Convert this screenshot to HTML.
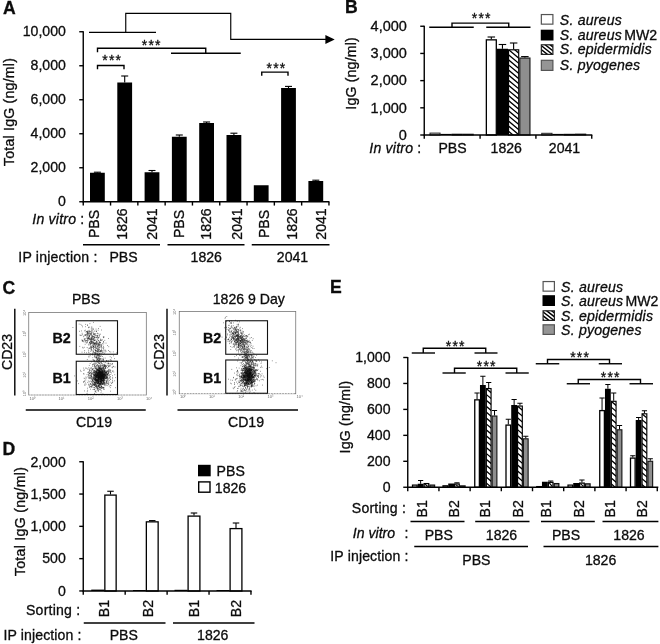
<!DOCTYPE html>
<html lang="en"><head><meta charset="utf-8"><title>Figure</title>
<style>html,body{margin:0;padding:0;background:#fff}svg{display:block}text{font-family:"Liberation Sans",Arial,Helvetica,sans-serif;fill:#0c0c0c;stroke:#0c0c0c;stroke-width:.3px}</style></head><body>
<svg width="660" height="644" viewBox="0 0 660 644" font-size="14.1">
<rect width="660" height="644" fill="#fff"/>
<g id="panelA">
<text x="2.9" y="13.6" font-size="17.6" font-weight="bold">A</text>
<rect x="90" y="172.75" width="14.8" height="29" fill="#000"/>
<line x1="97.4" y1="172.2" x2="97.4" y2="172.75" stroke="#000" stroke-width="1.1"/>
<line x1="93.9" y1="172.2" x2="100.9" y2="172.2" stroke="#000" stroke-width="1.1"/>
<rect x="117.3" y="82.5" width="14.8" height="119.25" fill="#000"/>
<line x1="124.7" y1="76" x2="124.7" y2="82.5" stroke="#000" stroke-width="1.1"/>
<line x1="121.2" y1="76" x2="128.2" y2="76" stroke="#000" stroke-width="1.1"/>
<rect x="144.6" y="172.25" width="14.8" height="29.5" fill="#000"/>
<line x1="152" y1="170.5" x2="152" y2="172.25" stroke="#000" stroke-width="1.1"/>
<line x1="148.5" y1="170.5" x2="155.5" y2="170.5" stroke="#000" stroke-width="1.1"/>
<rect x="171.9" y="136.75" width="14.8" height="65" fill="#000"/>
<line x1="179.3" y1="135" x2="179.3" y2="136.75" stroke="#000" stroke-width="1.1"/>
<line x1="175.8" y1="135" x2="182.8" y2="135" stroke="#000" stroke-width="1.1"/>
<rect x="199.2" y="123" width="14.8" height="78.75" fill="#000"/>
<line x1="206.6" y1="122" x2="206.6" y2="123" stroke="#000" stroke-width="1.1"/>
<line x1="203.1" y1="122" x2="210.1" y2="122" stroke="#000" stroke-width="1.1"/>
<rect x="226.5" y="135" width="14.8" height="66.75" fill="#000"/>
<line x1="233.9" y1="133.2" x2="233.9" y2="135" stroke="#000" stroke-width="1.1"/>
<line x1="230.4" y1="133.2" x2="237.4" y2="133.2" stroke="#000" stroke-width="1.1"/>
<rect x="253.8" y="185.25" width="14.8" height="16.5" fill="#000"/>
<rect x="281.1" y="88" width="14.8" height="113.75" fill="#000"/>
<line x1="288.5" y1="86.4" x2="288.5" y2="88" stroke="#000" stroke-width="1.1"/>
<line x1="285" y1="86.4" x2="292" y2="86.4" stroke="#000" stroke-width="1.1"/>
<rect x="308.4" y="181" width="14.8" height="20.75" fill="#000"/>
<line x1="315.8" y1="180.2" x2="315.8" y2="181" stroke="#000" stroke-width="1.1"/>
<line x1="312.3" y1="180.2" x2="319.3" y2="180.2" stroke="#000" stroke-width="1.1"/>
<line x1="83.25" y1="31.15" x2="83.25" y2="202.35" stroke="#000" stroke-width="1.4"/>
<line x1="82.65" y1="201.75" x2="329.4" y2="201.75" stroke="#000" stroke-width="1.4"/>
<line x1="79.25" y1="31.75" x2="83.25" y2="31.75" stroke="#000" stroke-width="1.4"/>
<text x="65.9" y="35.55" text-anchor="end">10,000</text>
<line x1="79.25" y1="65.75" x2="83.25" y2="65.75" stroke="#000" stroke-width="1.4"/>
<text x="65.9" y="69.55" text-anchor="end">8,000</text>
<line x1="79.25" y1="99.75" x2="83.25" y2="99.75" stroke="#000" stroke-width="1.4"/>
<text x="65.9" y="103.55" text-anchor="end">6,000</text>
<line x1="79.25" y1="133.75" x2="83.25" y2="133.75" stroke="#000" stroke-width="1.4"/>
<text x="65.9" y="137.55" text-anchor="end">4,000</text>
<line x1="79.25" y1="167.75" x2="83.25" y2="167.75" stroke="#000" stroke-width="1.4"/>
<text x="65.9" y="171.55" text-anchor="end">2,000</text>
<line x1="79.25" y1="201.75" x2="83.25" y2="201.75" stroke="#000" stroke-width="1.4"/>
<text x="65.9" y="205.55" text-anchor="end">0</text>
<line x1="83.25" y1="201.75" x2="83.25" y2="205.55" stroke="#000" stroke-width="1.4"/>
<line x1="110.55" y1="201.75" x2="110.55" y2="205.55" stroke="#000" stroke-width="1.4"/>
<line x1="137.85" y1="201.75" x2="137.85" y2="205.55" stroke="#000" stroke-width="1.4"/>
<line x1="165.15" y1="201.75" x2="165.15" y2="205.55" stroke="#000" stroke-width="1.4"/>
<line x1="192.45" y1="201.75" x2="192.45" y2="205.55" stroke="#000" stroke-width="1.4"/>
<line x1="219.75" y1="201.75" x2="219.75" y2="205.55" stroke="#000" stroke-width="1.4"/>
<line x1="247.05" y1="201.75" x2="247.05" y2="205.55" stroke="#000" stroke-width="1.4"/>
<line x1="274.35" y1="201.75" x2="274.35" y2="205.55" stroke="#000" stroke-width="1.4"/>
<line x1="301.65" y1="201.75" x2="301.65" y2="205.55" stroke="#000" stroke-width="1.4"/>
<line x1="328.95" y1="201.75" x2="328.95" y2="205.55" stroke="#000" stroke-width="1.4"/>
<text x="0" y="0" letter-spacing="0.24" text-anchor="middle" transform="translate(13.6 112) rotate(-90)">Total IgG (ng/ml)</text>
<polyline points="125.75,32.3 125.75,13.4 230.75,13.4 230.75,39.4 327,39.4" fill="none" stroke="#000" stroke-width="1.15" stroke-linejoin="miter"/>
<polygon points="325.4,34.9 334.7,39.4 325.4,43.9" fill="#000"/>
<line x1="89" y1="32.3" x2="156" y2="32.3" stroke="#000" stroke-width="1.15"/>
<polyline points="97.5,52.2 97.5,48.3 205.75,48.3 205.75,53.25" fill="none" stroke="#000" stroke-width="1.4" stroke-linejoin="miter"/>
<line x1="171" y1="53.25" x2="240.75" y2="53.25" stroke="#000" stroke-width="1.4"/>
<text x="151.7" y="50.3" letter-spacing="1.15" text-anchor="middle" font-size="14">***</text>
<polyline points="97.5,69.2 97.5,65.5 124,65.5 124,69.2" fill="none" stroke="#000" stroke-width="1.4" stroke-linejoin="miter"/>
<text x="112.2" y="65.3" letter-spacing="1.15" text-anchor="middle" font-size="14">***</text>
<polyline points="261.75,75.7 261.75,72.1 288,72.1 288,75.7" fill="none" stroke="#000" stroke-width="1.4" stroke-linejoin="miter"/>
<text x="276.45" y="72.8" letter-spacing="1.15" text-anchor="middle" font-size="14">***</text>
<text x="32.3" y="223.7" letter-spacing="0.2"><tspan font-style="italic">In vitro</tspan> :</text>
<text x="0" y="0" text-anchor="middle" transform="translate(99.4 224) rotate(-90)">PBS</text>
<text x="0" y="0" text-anchor="middle" transform="translate(127 224) rotate(-90)">1826</text>
<text x="0" y="0" text-anchor="middle" transform="translate(157.4 224) rotate(-90)">2041</text>
<text x="0" y="0" text-anchor="middle" transform="translate(183.9 224) rotate(-90)">PBS</text>
<text x="0" y="0" text-anchor="middle" transform="translate(210.6 224) rotate(-90)">1826</text>
<text x="0" y="0" text-anchor="middle" transform="translate(242.2 224) rotate(-90)">2041</text>
<text x="0" y="0" text-anchor="middle" transform="translate(268.6 224) rotate(-90)">PBS</text>
<text x="0" y="0" text-anchor="middle" transform="translate(297 224) rotate(-90)">1826</text>
<text x="0" y="0" text-anchor="middle" transform="translate(326.2 224) rotate(-90)">2041</text>
<line x1="83" y1="244.75" x2="160" y2="244.75" stroke="#000" stroke-width="1.4"/>
<line x1="167.5" y1="244.75" x2="244.5" y2="244.75" stroke="#000" stroke-width="1.4"/>
<line x1="251.75" y1="244.75" x2="329.5" y2="244.75" stroke="#000" stroke-width="1.4"/>
<text x="18.3" y="261.7" letter-spacing="0.2">IP injection :</text>
<text x="123.5" y="261.6" text-anchor="middle">PBS</text>
<text x="206.25" y="261.6" text-anchor="middle">1826</text>
<text x="292.5" y="261.6" text-anchor="middle">2041</text>
</g>
<g id="panelB">
<text x="344.9" y="13" font-size="17.6" font-weight="bold">B</text>
<rect x="486.35" y="39.85" width="9.95" height="95.15" fill="#fff" stroke="#000" stroke-width="1.3"/>
<line x1="491.32" y1="37" x2="491.32" y2="39.25" stroke="#000" stroke-width="1.1"/>
<line x1="487.57" y1="37" x2="495.07" y2="37" stroke="#000" stroke-width="1.1"/>
<rect x="496.9" y="48.75" width="11.1" height="86.25" fill="#000"/>
<line x1="502.45" y1="44.5" x2="502.45" y2="48.75" stroke="#000" stroke-width="1.1"/>
<line x1="498.7" y1="44.5" x2="506.2" y2="44.5" stroke="#000" stroke-width="1.1"/>
<clipPath id="hc1"><rect x="508.55" y="49.8" width="10.15" height="85.2"/></clipPath>
<rect x="508.55" y="49.8" width="10.15" height="85.2" fill="#fff"/>
<path d="M507.55 38.6L519.7 48.8M507.55 43.7L519.7 53.9M507.55 48.8L519.7 59M507.55 53.9L519.7 64.1M507.55 59L519.7 69.2M507.55 64.1L519.7 74.3M507.55 69.2L519.7 79.4M507.55 74.3L519.7 84.5M507.55 79.4L519.7 89.6M507.55 84.5L519.7 94.7M507.55 89.6L519.7 99.8M507.55 94.7L519.7 104.9M507.55 99.8L519.7 110M507.55 104.9L519.7 115.1M507.55 110L519.7 120.2M507.55 115.1L519.7 125.3M507.55 120.2L519.7 130.4M507.55 125.3L519.7 135.5M507.55 130.4L519.7 140.6M507.55 135.5L519.7 145.7" stroke="#000" stroke-width="1.3" fill="none" clip-path="url(#hc1)"/>
<rect x="508.55" y="49.8" width="10.15" height="85.2" fill="none" stroke="#000" stroke-width="1.15"/>
<line x1="513.62" y1="43" x2="513.62" y2="49.25" stroke="#000" stroke-width="1.1"/>
<line x1="509.88" y1="43" x2="517.38" y2="43" stroke="#000" stroke-width="1.1"/>
<rect x="519.8" y="58.05" width="10.15" height="76.95" fill="#8e8e8e" stroke="#181818" stroke-width="1.15"/>
<line x1="524.88" y1="56.6" x2="524.88" y2="57.5" stroke="#000" stroke-width="1.1"/>
<line x1="521.12" y1="56.6" x2="528.62" y2="56.6" stroke="#000" stroke-width="1.1"/>
<rect x="430" y="133.1" width="10.06" height="1.9" fill="#ddd" stroke="#222" stroke-width="1"/>
<rect x="440.56" y="133.9" width="11.06" height="1.1" fill="#000"/>
<rect x="452.12" y="134.2" width="10.06" height="0.8" fill="#777" stroke="#111" stroke-width="1"/>
<rect x="463.18" y="134.2" width="10.06" height="0.8" fill="#777" stroke="#222" stroke-width="1"/>
<rect x="541.75" y="133.3" width="10.25" height="1.7" fill="#ddd" stroke="#222" stroke-width="1"/>
<rect x="552.5" y="133.9" width="11.25" height="1.1" fill="#000"/>
<rect x="564.25" y="134.3" width="10.25" height="0.7" fill="#777" stroke="#111" stroke-width="1"/>
<rect x="575.5" y="134.1" width="10.25" height="0.9" fill="#777" stroke="#222" stroke-width="1"/>
<line x1="424.25" y1="25.65" x2="424.25" y2="135.6" stroke="#000" stroke-width="1.4"/>
<line x1="423.65" y1="135" x2="592.3" y2="135" stroke="#000" stroke-width="1.4"/>
<line x1="420.25" y1="26.25" x2="424.25" y2="26.25" stroke="#000" stroke-width="1.4"/>
<text x="406.9" y="30.95" text-anchor="end" font-size="14.5">4,000</text>
<line x1="420.25" y1="53.44" x2="424.25" y2="53.44" stroke="#000" stroke-width="1.4"/>
<text x="406.9" y="58.14" text-anchor="end" font-size="14.5">3,000</text>
<line x1="420.25" y1="80.63" x2="424.25" y2="80.63" stroke="#000" stroke-width="1.4"/>
<text x="406.9" y="85.33" text-anchor="end" font-size="14.5">2,000</text>
<line x1="420.25" y1="107.82" x2="424.25" y2="107.82" stroke="#000" stroke-width="1.4"/>
<text x="406.9" y="112.52" text-anchor="end" font-size="14.5">1,000</text>
<line x1="420.25" y1="135.01" x2="424.25" y2="135.01" stroke="#000" stroke-width="1.4"/>
<text x="406.9" y="139.71" text-anchor="end" font-size="14.5">0</text>
<line x1="424.25" y1="135" x2="424.25" y2="138.8" stroke="#000" stroke-width="1.4"/>
<line x1="480.08" y1="135" x2="480.08" y2="138.8" stroke="#000" stroke-width="1.4"/>
<line x1="535.91" y1="135" x2="535.91" y2="138.8" stroke="#000" stroke-width="1.4"/>
<line x1="591.74" y1="135" x2="591.74" y2="138.8" stroke="#000" stroke-width="1.4"/>
<text x="0" y="0" letter-spacing="0.18" text-anchor="middle" transform="translate(356 73.4) rotate(-90)">IgG (ng/ml)</text>
<line x1="429.25" y1="27.3" x2="473.75" y2="27.3" stroke="#000" stroke-width="1.4"/>
<line x1="486.25" y1="27.3" x2="530.5" y2="27.3" stroke="#000" stroke-width="1.4"/>
<polyline points="452,27.3 452,23.1 508.75,23.1 508.75,27.3" fill="none" stroke="#000" stroke-width="1.4" stroke-linejoin="miter"/>
<text x="481.7" y="22.8" letter-spacing="1.15" text-anchor="middle" font-size="14">***</text>
<text x="369.3" y="153.1" letter-spacing="0.2"><tspan font-style="italic">In vitro</tspan> :</text>
<text x="452.5" y="153.1" text-anchor="middle">PBS</text>
<text x="506.25" y="153.1" text-anchor="middle">1826</text>
<text x="564.5" y="153.1" text-anchor="middle">2041</text>
<rect x="541.35" y="14.55" width="11.55" height="9.6" fill="#fff" stroke="#555" stroke-width="1.2"/>
<rect x="540.75" y="29.7" width="12.75" height="10.8" fill="#000"/>
<clipPath id="hc2"><rect x="541.35" y="44.8" width="11.55" height="9.6"/></clipPath>
<rect x="541.35" y="44.8" width="11.55" height="9.6" fill="#fff"/>
<path d="M540.35 33.21L553.9 43.8M540.35 37.11L553.9 47.7M540.35 41.01L553.9 51.6M540.35 44.91L553.9 55.5M540.35 48.81L553.9 59.4M540.35 52.71L553.9 63.3" stroke="#000" stroke-width="1.45" fill="none" clip-path="url(#hc2)"/>
<rect x="541.35" y="44.8" width="11.55" height="9.6" fill="none" stroke="#222" stroke-width="1.2"/>
<rect x="541.35" y="60.3" width="11.55" height="10.1" fill="#959595" stroke="#555" stroke-width="1.2"/>
<text x="559.8" y="24.7" letter-spacing="0.2" font-style="italic">S. aureus</text>
<text x="559.8" y="40.3" letter-spacing="0.2"><tspan font-style="italic">S. aureus</tspan><tspan dx="-1.6" letter-spacing="0"> MW2</tspan></text>
<text x="559.8" y="54.2" letter-spacing="0.2" font-style="italic">S. epidermidis</text>
<text x="559.8" y="69.7" letter-spacing="0.2" font-style="italic">S. pyogenes</text>
</g>
<g id="panelC">
<text x="2.6" y="293.5" font-size="17.6" font-weight="bold">C</text>
<rect x="28.75" y="312.4" width="117.55" height="82.6" fill="none" stroke="#6e6e6e" stroke-width="0.75"/>
<line x1="29.75" y1="395" x2="145.3" y2="395" stroke="#fff" stroke-width="1.2" stroke-dasharray="1.2 1.6"/>
<text x="0" y="0" text-anchor="middle" font-size="4" style="fill:#686868;stroke:none" transform="translate(25.75 312.9) rotate(-90)">10⁴</text>
<text x="0" y="0" text-anchor="middle" font-size="4" style="fill:#686868;stroke:none" transform="translate(25.75 333.7) rotate(-90)">10³</text>
<text x="0" y="0" text-anchor="middle" font-size="4" style="fill:#686868;stroke:none" transform="translate(25.75 354.4) rotate(-90)">10²</text>
<text x="0" y="0" text-anchor="middle" font-size="4" style="fill:#686868;stroke:none" transform="translate(25.75 374.9) rotate(-90)">10¹</text>
<text x="0" y="0" text-anchor="middle" font-size="4" style="fill:#686868;stroke:none" transform="translate(25.75 393.5) rotate(-90)">10⁰</text>
<text x="32.25" y="399.6" text-anchor="middle" font-size="4" style="fill:#686868;stroke:none">10⁰</text>
<text x="61.45" y="399.6" text-anchor="middle" font-size="4" style="fill:#686868;stroke:none">10¹</text>
<text x="90.65" y="399.6" text-anchor="middle" font-size="4" style="fill:#686868;stroke:none">10²</text>
<text x="119.85" y="399.6" text-anchor="middle" font-size="4" style="fill:#686868;stroke:none">10³</text>
<text x="149.05" y="399.6" text-anchor="middle" font-size="4" style="fill:#686868;stroke:none">10⁴</text>
<path d="M96.6 377.7h.65M102.6 373.9h.65M96.3 376.2h.65M101.2 379.6h.65M96.6 372.0h.65M101.8 377.4h.65M104.0 378.8h.65M99.6 375.1h.65M106.8 374.1h.65M97.8 372.4h.65M100.2 376.5h.65M99.0 375.9h.65M100.6 378.2h.65M102.9 376.3h.65M95.1 379.0h.65M96.1 375.9h.65M95.9 376.5h.65M97.8 377.0h.65M108.8 374.7h.65M102.2 371.2h.65M99.1 378.3h.65M99.6 377.3h.65M100.2 372.6h.65M101.4 373.1h.65M105.0 373.7h.65M101.8 375.8h.65M102.5 373.6h.65M102.6 375.2h.65M103.3 377.7h.65M100.3 373.3h.65M102.0 377.3h.65M104.3 374.2h.65M101.4 377.5h.65M100.7 376.6h.65M100.4 373.9h.65M97.2 375.0h.65M101.5 380.9h.65M102.5 379.2h.65M102.0 378.1h.65M100.4 378.5h.65M104.7 374.3h.65M98.0 382.9h.65M100.6 379.2h.65M102.3 371.9h.65M106.5 381.2h.65M100.4 378.5h.65M100.2 373.0h.65M99.6 377.3h.65M102.9 378.0h.65M100.1 380.6h.65M97.8 378.9h.65M102.9 374.6h.65M95.1 373.5h.65M100.5 377.7h.65M104.1 372.1h.65M99.9 378.2h.65M99.5 368.0h.65M102.1 383.5h.65M102.6 372.6h.65M98.8 376.9h.65M106.6 377.2h.65M100.2 381.2h.65M99.7 382.3h.65M98.1 374.6h.65M101.8 380.6h.65M101.7 376.8h.65M95.0 374.2h.65M98.3 374.4h.65M101.5 374.7h.65M102.0 376.0h.65M99.0 376.5h.65M101.1 378.8h.65M98.6 375.4h.65M96.2 381.9h.65M103.8 374.9h.65M98.6 372.0h.65M100.4 376.6h.65M105.8 376.1h.65M97.8 368.0h.65M103.7 376.2h.65M95.6 377.2h.65M95.6 388.3h.65M102.9 377.6h.65M99.4 368.8h.65M99.6 370.8h.65M101.5 368.6h.65M97.4 380.4h.65M104.3 371.4h.65M95.8 379.5h.65M102.2 372.4h.65M98.0 373.9h.65M96.7 374.1h.65M103.3 377.9h.65M105.5 375.0h.65M99.5 372.7h.65M99.6 371.6h.65M95.1 379.0h.65M103.8 378.3h.65M103.5 376.4h.65M98.0 376.5h.65M98.9 372.4h.65M95.3 371.6h.65M99.9 376.5h.65M98.6 381.0h.65M100.4 377.9h.65M103.2 372.8h.65M94.6 379.2h.65M98.0 380.7h.65M100.8 379.3h.65M102.0 368.7h.65M101.8 373.5h.65M97.9 374.8h.65M102.0 378.7h.65M102.6 370.0h.65M98.3 368.2h.65M99.6 378.1h.65M97.8 377.1h.65M100.5 379.3h.65M97.7 373.5h.65M97.8 382.2h.65M102.8 375.2h.65M100.5 376.3h.65M100.4 375.2h.65M99.0 371.9h.65M98.2 381.8h.65M101.3 376.0h.65M99.3 376.3h.65M100.9 373.7h.65M100.4 376.7h.65M97.9 373.6h.65M97.2 372.7h.65M102.3 367.7h.65M99.2 374.0h.65M98.2 376.5h.65M102.9 375.9h.65M99.5 374.0h.65M99.6 379.1h.65M98.8 372.3h.65M96.5 372.7h.65M96.1 380.2h.65M100.9 375.1h.65M103.8 373.3h.65M101.9 378.5h.65M95.7 371.3h.65M97.4 379.4h.65M103.4 371.4h.65M102.7 374.3h.65M98.8 374.3h.65M99.0 370.0h.65M97.2 372.2h.65M101.2 382.9h.65M107.3 373.9h.65M95.3 375.2h.65M97.4 383.0h.65M101.4 373.3h.65M102.4 377.5h.65M95.5 374.8h.65M99.3 376.1h.65M100.3 374.8h.65M100.4 374.0h.65M97.5 381.4h.65M100.9 377.4h.65M95.6 376.0h.65M102.1 371.4h.65M102.9 374.3h.65M101.0 375.4h.65M100.5 380.0h.65M98.8 381.4h.65M97.8 373.1h.65M101.8 372.2h.65M98.9 379.2h.65M103.2 369.6h.65M101.3 382.2h.65M103.1 374.8h.65M98.3 375.2h.65M96.8 375.5h.65M99.4 375.6h.65M103.1 374.8h.65M96.0 380.1h.65M97.0 374.9h.65M99.5 374.9h.65M97.2 375.5h.65M105.8 373.2h.65M99.5 379.8h.65M101.9 378.3h.65M102.2 369.0h.65M97.6 376.7h.65M101.2 380.2h.65M101.2 375.0h.65M100.0 375.3h.65M100.6 378.2h.65M99.0 373.4h.65M97.6 380.0h.65M103.4 378.9h.65M102.2 378.5h.65M99.9 378.2h.65M97.1 375.7h.65M97.9 378.7h.65M98.3 375.8h.65M101.0 380.4h.65M97.8 373.1h.65M102.1 372.0h.65M101.1 373.9h.65M99.6 369.9h.65M101.8 374.1h.65M97.5 383.3h.65M101.8 387.6h.65M101.0 374.7h.65M100.2 381.4h.65M99.8 377.5h.65M101.3 372.7h.65M100.2 374.3h.65M96.5 379.4h.65M101.7 376.0h.65M97.4 369.5h.65M101.2 375.5h.65M95.4 376.4h.65M95.8 376.4h.65M100.3 377.2h.65M100.5 376.5h.65M96.8 375.1h.65M98.5 375.4h.65M100.6 378.0h.65M104.3 366.8h.65M101.0 375.2h.65M106.0 378.4h.65M95.4 377.9h.65M98.5 379.5h.65M97.1 376.0h.65M99.5 375.7h.65M98.3 370.0h.65M101.1 379.2h.65M99.7 372.6h.65M100.4 377.8h.65M99.4 376.0h.65M103.7 371.7h.65M98.4 369.7h.65M98.0 373.7h.65M97.3 374.0h.65M104.8 374.7h.65M99.6 383.5h.65M99.7 370.2h.65M101.0 372.7h.65M104.3 371.2h.65M98.3 370.8h.65M100.2 372.5h.65M99.7 374.7h.65M98.2 379.4h.65M102.4 375.9h.65M97.5 372.7h.65M100.6 384.0h.65M98.7 373.5h.65M98.0 372.5h.65M97.3 375.6h.65M103.8 375.5h.65M98.5 370.7h.65M100.5 375.8h.65M96.6 372.7h.65M99.8 379.4h.65M101.6 376.5h.65M99.0 377.2h.65M99.9 383.4h.65M96.8 375.1h.65M103.3 374.7h.65M103.7 375.4h.65M100.3 374.7h.65M96.2 373.2h.65M105.9 377.4h.65M101.5 379.0h.65M101.4 379.3h.65M99.2 375.3h.65M102.6 374.5h.65M96.3 375.7h.65M98.4 378.3h.65M98.0 372.7h.65M99.0 381.4h.65M99.8 376.6h.65M99.9 377.0h.65M102.4 380.4h.65M95.5 381.2h.65M99.9 374.9h.65M106.4 374.6h.65M105.2 378.6h.65M97.1 378.0h.65M101.9 375.3h.65M93.6 375.6h.65M99.4 372.3h.65M104.8 374.6h.65M98.8 375.1h.65M97.8 373.6h.65M100.2 377.0h.65M98.5 375.9h.65M96.1 378.2h.65M97.9 377.0h.65M97.5 374.6h.65M100.5 371.8h.65M106.6 375.0h.65M99.7 373.5h.65M104.2 380.1h.65M100.7 371.3h.65M98.5 378.3h.65M98.5 372.2h.65M96.7 373.8h.65M99.9 373.8h.65M99.9 385.4h.65M104.7 371.9h.65M100.8 376.2h.65M99.5 379.6h.65M99.0 375.0h.65M98.9 375.8h.65M103.4 378.2h.65M96.3 375.0h.65M97.7 379.0h.65M100.5 378.9h.65M99.7 369.6h.65M101.1 376.6h.65M101.3 371.4h.65M100.1 373.6h.65M98.0 377.4h.65M100.9 372.9h.65M95.3 368.2h.65M98.3 380.0h.65M99.8 368.4h.65M97.6 377.7h.65M104.4 379.4h.65M100.9 376.5h.65M97.0 374.8h.65M99.0 373.5h.65M100.1 374.6h.65M100.8 380.7h.65M101.9 377.2h.65M99.2 370.9h.65M99.6 377.9h.65M97.2 380.6h.65M99.0 377.4h.65M99.0 371.9h.65M105.5 371.4h.65M102.4 373.8h.65M100.7 373.2h.65M98.8 379.3h.65M105.2 372.5h.65M99.9 379.2h.65M98.2 378.6h.65M97.8 378.3h.65M101.1 380.0h.65M100.9 371.8h.65M101.7 372.0h.65M101.9 380.9h.65M101.5 373.9h.65M103.1 376.2h.65M96.5 375.2h.65M103.7 374.5h.65M100.2 374.8h.65M95.3 374.8h.65M100.9 376.6h.65M99.4 368.8h.65M103.2 378.0h.65M102.7 380.1h.65M98.7 374.1h.65M100.7 381.6h.65M95.3 375.8h.65M98.0 378.1h.65M103.9 374.5h.65M96.6 376.6h.65M99.1 370.9h.65M102.3 373.9h.65M101.7 371.3h.65M102.9 370.8h.65M102.7 369.5h.65M103.6 374.3h.65M95.7 375.7h.65M100.8 372.5h.65M98.6 377.1h.65M99.4 365.7h.65M98.7 377.6h.65M100.7 379.3h.65M98.0 384.9h.65M102.1 376.8h.65M102.8 378.9h.65M100.2 373.9h.65M102.7 377.1h.65M94.8 372.9h.65M101.2 376.2h.65M100.7 378.1h.65M100.3 381.3h.65M98.3 374.8h.65M100.8 378.4h.65M102.0 380.8h.65M98.6 380.1h.65M101.2 372.3h.65M99.5 383.1h.65M102.0 374.1h.65M93.4 374.3h.65M98.0 376.5h.65M106.1 377.7h.65M100.7 372.7h.65M96.7 375.7h.65M98.6 386.3h.65M98.8 374.1h.65M102.9 375.9h.65M93.8 385.4h.65M98.2 368.4h.65M101.2 379.0h.65M98.1 380.9h.65M103.6 370.1h.65M89.8 363.5h.65M99.1 384.0h.65M104.5 383.9h.65M108.6 374.7h.65M104.8 365.9h.65M103.0 378.1h.65M99.2 373.7h.65M94.3 378.2h.65M105.8 372.9h.65M102.2 371.7h.65M100.9 369.9h.65M101.5 374.6h.65M101.2 372.3h.65M94.1 375.4h.65M104.7 385.0h.65M98.1 381.5h.65M103.3 378.0h.65M92.3 379.7h.65M95.0 384.4h.65M103.5 379.4h.65M87.5 382.5h.65M103.1 367.8h.65M104.4 375.9h.65M98.8 372.1h.65M94.8 374.6h.65M114.5 374.7h.65M100.7 372.1h.65M96.7 373.5h.65M95.4 382.5h.65M98.4 381.9h.65M94.2 383.1h.65M99.6 380.4h.65M99.2 371.0h.65M105.5 372.5h.65M99.0 371.0h.65M100.7 373.7h.65M101.1 378.1h.65M96.4 368.3h.65M101.8 381.5h.65M103.0 368.6h.65M102.6 378.1h.65M101.1 378.7h.65M98.1 377.9h.65M104.1 372.3h.65M92.8 377.0h.65M100.6 364.8h.65M96.5 380.5h.65M99.0 377.0h.65M93.7 383.0h.65M108.1 373.4h.65M96.2 369.9h.65M104.0 376.1h.65M95.9 384.5h.65M103.4 379.3h.65M91.3 377.3h.65M102.7 368.2h.65M104.2 384.2h.65M104.7 370.9h.65M96.3 382.7h.65M104.5 382.9h.65M105.5 374.6h.65M97.7 365.3h.65M103.5 389.5h.65M97.5 373.8h.65M102.8 378.0h.65M93.1 373.2h.65M94.4 389.7h.65M96.3 382.2h.65M108.9 386.1h.65M106.5 385.0h.65M93.8 375.3h.65M96.2 375.2h.65M112.3 363.6h.65M102.4 368.2h.65M106.1 383.0h.65M97.2 389.5h.65M100.1 384.2h.65M101.2 372.6h.65M97.9 375.9h.65M102.7 376.5h.65M111.0 372.9h.65M97.5 372.3h.65M96.0 368.2h.65M95.0 382.8h.65M100.0 375.2h.65M101.4 382.5h.65M102.7 380.5h.65M97.0 375.2h.65M96.0 376.4h.65M95.8 374.8h.65M98.9 375.1h.65M98.4 373.5h.65M106.0 373.0h.65M94.8 378.4h.65M94.5 370.7h.65M100.1 366.0h.65M84.2 381.1h.65M104.7 365.1h.65M95.4 380.7h.65M90.2 372.8h.65M93.9 376.2h.65M90.2 383.6h.65M99.0 378.3h.65M98.1 363.6h.65M99.0 368.2h.65M99.7 371.1h.65M98.2 375.3h.65M103.4 380.3h.65M94.9 377.1h.65M106.7 378.0h.65M96.2 376.2h.65M98.0 382.4h.65M99.9 378.6h.65M110.3 365.8h.65M94.8 366.6h.65M92.1 383.0h.65M101.1 386.0h.65M90.2 372.7h.65M106.6 381.3h.65M103.9 380.8h.65M99.9 376.2h.65M99.9 381.4h.65M98.9 378.4h.65M106.7 368.0h.65M96.1 380.5h.65M98.4 375.6h.65M109.8 376.9h.65M97.7 383.4h.65M111.8 367.2h.65M96.5 377.6h.65M96.6 390.2h.65M102.2 373.4h.65M102.1 371.0h.65M96.8 377.5h.65M111.2 360.3h.65M101.7 384.2h.65M103.3 387.4h.65M101.9 376.8h.65M99.1 371.2h.65M107.5 367.5h.65M99.1 373.2h.65M95.9 363.4h.65M97.9 377.5h.65M100.4 381.3h.65M98.9 372.5h.65M101.2 380.1h.65M95.4 367.8h.65M94.8 383.7h.65M104.5 369.9h.65M100.2 381.3h.65M106.1 371.0h.65M98.5 385.2h.65M111.3 383.4h.65M94.2 380.1h.65M98.3 376.2h.65M96.5 374.0h.65M99.7 387.4h.65M103.1 378.3h.65M99.8 371.7h.65M98.6 384.1h.65M103.7 387.6h.65M101.0 375.9h.65M91.9 380.2h.65M91.4 387.3h.65M96.7 376.9h.65M93.2 374.5h.65M95.2 384.1h.65M100.9 368.8h.65M90.4 377.7h.65M97.4 369.9h.65M102.5 374.6h.65M100.2 372.6h.65M97.0 374.0h.65M92.0 381.7h.65M101.6 365.4h.65M100.2 383.3h.65M100.8 384.0h.65M98.4 376.6h.65M93.5 372.0h.65M90.9 372.5h.65M100.9 379.3h.65M105.3 376.0h.65M94.9 379.9h.65M99.0 387.4h.65M109.1 380.4h.65M94.2 374.1h.65M100.6 371.8h.65M102.2 380.0h.65M103.7 376.9h.65M95.5 372.0h.65M99.1 384.6h.65M107.3 380.8h.65M101.4 380.1h.65M103.6 383.5h.65M103.8 366.1h.65M104.3 377.8h.65M97.5 379.9h.65M101.1 375.7h.65M91.6 378.6h.65M102.4 375.5h.65M92.1 380.6h.65M103.2 376.7h.65M101.7 373.7h.65M96.5 380.1h.65M98.0 377.7h.65M115.3 377.6h.65M100.4 366.2h.65M100.2 380.9h.65M96.3 375.5h.65M88.9 381.8h.65M96.8 381.0h.65M106.2 374.0h.65M104.4 376.9h.65M98.7 374.8h.65M95.6 385.0h.65M103.9 369.3h.65M103.7 371.0h.65M92.5 385.1h.65M93.6 384.8h.65M100.7 381.6h.65M102.2 382.9h.65M101.4 379.5h.65M100.9 382.8h.65M97.8 382.9h.65M106.9 374.5h.65M101.8 372.7h.65M98.3 378.2h.65M98.1 371.2h.65M99.6 377.5h.65M101.3 380.4h.65M91.2 386.6h.65M98.9 371.7h.65M97.9 379.4h.65M103.9 373.2h.65M100.5 366.4h.65M100.5 375.5h.65M97.6 382.1h.65M108.3 381.0h.65M95.9 386.4h.65M98.1 376.4h.65M96.9 379.6h.65M102.4 376.7h.65M98.7 375.6h.65M97.8 382.6h.65M97.2 375.9h.65M98.7 371.9h.65M98.6 367.5h.65M101.7 379.2h.65M98.3 386.1h.65M95.8 380.5h.65M102.0 372.6h.65M98.5 382.0h.65M100.0 378.0h.65M106.4 376.3h.65M91.7 373.4h.65M103.7 374.7h.65M94.5 365.2h.65M101.2 385.2h.65M93.7 364.2h.65M102.1 372.5h.65M98.3 374.6h.65M95.4 379.8h.65M104.1 377.7h.65M97.0 383.2h.65M99.2 379.9h.65M95.2 381.2h.65M103.2 383.5h.65M99.8 379.0h.65M97.0 382.2h.65M103.4 382.2h.65M97.9 369.2h.65M99.4 375.1h.65M96.2 380.7h.65M104.2 377.8h.65M105.0 377.7h.65M95.1 373.7h.65M98.0 380.8h.65M104.1 376.3h.65M104.5 370.4h.65M99.2 385.5h.65M101.8 382.2h.65M90.8 367.9h.65M95.6 383.2h.65M107.4 371.1h.65M95.0 371.1h.65M95.5 380.5h.65M98.2 388.0h.65M103.1 371.5h.65M100.8 375.2h.65M103.5 381.1h.65M98.1 382.0h.65M102.4 375.3h.65M100.9 380.2h.65M98.2 372.5h.65M105.7 375.2h.65M96.9 379.6h.65M92.7 378.0h.65M93.3 375.0h.65M91.3 373.6h.65M103.9 374.4h.65M94.0 387.9h.65M96.7 385.8h.65M97.2 368.0h.65M108.4 372.0h.65M103.3 382.8h.65M93.5 378.0h.65M97.0 380.5h.65M99.7 368.7h.65M100.0 380.9h.65M98.3 380.0h.65M97.2 376.5h.65M101.4 376.9h.65M105.7 380.9h.65M103.7 379.9h.65M100.5 369.2h.65M104.7 385.8h.65M100.8 374.6h.65M99.6 383.6h.65M101.1 370.2h.65M98.9 371.9h.65M98.8 371.1h.65M95.6 386.0h.65M104.7 365.7h.65M95.1 374.6h.65M97.9 368.4h.65M103.9 365.9h.65M103.0 379.9h.65M98.0 372.7h.65M100.0 377.2h.65M89.9 370.7h.65M102.2 375.2h.65M97.8 370.8h.65M96.4 372.4h.65M112.8 366.3h.65M106.9 377.8h.65M100.7 377.3h.65M98.0 386.3h.65M102.1 375.7h.65M99.2 377.6h.65M94.4 375.5h.65M96.8 380.6h.65M102.6 364.6h.65M98.7 382.5h.65M93.7 370.4h.65M104.4 374.7h.65M97.6 369.5h.65M100.5 372.9h.65M100.7 378.7h.65M103.0 373.8h.65M97.3 377.0h.65M99.3 377.5h.65M97.3 375.4h.65M97.0 373.4h.65M100.5 383.1h.65M97.2 380.3h.65M101.4 376.7h.65M102.9 372.4h.65M102.4 377.6h.65M83.4 381.6h.65M102.6 387.5h.65M94.8 377.9h.65M101.4 370.2h.65M105.4 377.9h.65M96.0 369.9h.65M97.8 391.0h.65M109.9 359.5h.65M91.2 382.0h.65M99.2 372.6h.65M102.6 376.4h.65M101.1 377.7h.65M94.6 385.2h.65M97.6 383.6h.65M103.0 375.9h.65M100.4 375.9h.65M91.1 376.1h.65M101.8 366.3h.65M92.7 384.2h.65M103.5 366.3h.65M101.9 375.6h.65M104.3 373.5h.65M98.7 372.0h.65M100.6 375.4h.65M96.6 374.8h.65M96.2 380.8h.65M94.9 367.9h.65M95.2 383.7h.65M97.3 380.7h.65M103.2 372.6h.65M103.3 378.7h.65M99.5 372.1h.65M99.4 368.7h.65M98.4 373.1h.65M101.8 378.0h.65M96.7 382.1h.65M105.4 375.6h.65M96.2 380.1h.65M88.2 375.0h.65M102.5 387.9h.65M96.2 386.2h.65M110.7 385.6h.65M88.6 385.1h.65M100.6 382.3h.65M98.9 372.8h.65M98.6 385.6h.65M103.7 373.8h.65M101.5 381.2h.65M102.4 375.5h.65M96.6 372.4h.65M97.6 373.4h.65M92.2 369.2h.65M103.9 368.7h.65M93.5 377.3h.65M106.6 382.6h.65M97.8 370.4h.65M97.2 371.3h.65M97.1 379.7h.65M94.7 372.6h.65M98.5 376.4h.65M96.1 372.2h.65M94.3 372.8h.65M102.2 374.3h.65M84.9 382.9h.65M99.4 371.1h.65M98.5 358.1h.65M91.8 384.9h.65M109.9 387.6h.65M96.2 377.2h.65M103.4 368.1h.65M108.0 370.3h.65M101.4 369.0h.65M101.5 375.9h.65M104.9 368.3h.65M99.7 387.4h.65M94.0 379.6h.65M101.8 372.9h.65M98.4 385.2h.65M105.2 378.7h.65M101.0 369.1h.65M100.1 387.2h.65M104.8 367.0h.65M89.8 374.2h.65M100.5 372.8h.65M98.2 378.7h.65M104.0 376.8h.65M105.7 366.4h.65M101.9 378.5h.65M92.6 385.4h.65M92.0 368.9h.65M112.5 381.8h.65M101.5 384.3h.65M105.2 368.3h.65M102.0 384.5h.65M98.9 376.9h.65M97.5 381.2h.65M97.0 373.2h.65M93.8 371.7h.65M100.8 379.0h.65M97.8 370.2h.65M101.3 378.2h.65M105.8 372.1h.65M97.7 379.8h.65M107.1 374.6h.65M99.3 370.6h.65M97.9 382.5h.65M103.8 382.4h.65M91.8 383.0h.65M95.2 380.8h.65M88.3 377.9h.65M95.4 385.0h.65M100.3 384.2h.65M97.6 388.9h.65M97.6 388.4h.65M97.3 370.7h.65M104.0 373.0h.65M99.4 368.0h.65M98.0 377.3h.65M96.3 379.4h.65M88.6 384.0h.65M97.7 385.8h.65M98.0 372.6h.65M97.5 378.4h.65M102.6 372.9h.65M95.8 379.7h.65M103.7 364.7h.65M94.6 373.1h.65M108.0 382.3h.65M103.6 378.6h.65M94.3 384.3h.65M97.6 371.8h.65M109.1 365.5h.65M106.4 376.3h.65M95.2 378.3h.65M95.6 378.3h.65M96.6 369.6h.65M112.6 370.7h.65M104.5 375.1h.65M103.0 367.8h.65M94.6 357.0h.65M104.6 378.1h.65M94.0 382.6h.65M102.6 393.9h.65M100.9 381.8h.65M102.7 380.5h.65M99.6 373.8h.65M103.2 383.3h.65M94.0 370.4h.65M99.5 387.5h.65M98.7 366.0h.65M103.6 380.2h.65M109.2 375.7h.65M109.3 370.0h.65M104.1 376.3h.65M93.9 375.7h.65M106.2 382.0h.65M97.9 383.6h.65M104.1 381.0h.65M101.1 377.9h.65M95.7 376.7h.65M100.3 371.6h.65M98.3 377.6h.65M100.8 382.7h.65M94.7 374.8h.65M101.0 373.7h.65M101.3 373.1h.65M105.5 373.8h.65M94.2 382.0h.65M107.8 362.8h.65M99.1 376.9h.65M104.7 384.6h.65M99.0 366.8h.65M103.0 381.9h.65M102.0 376.4h.65M95.8 392.2h.65M93.9 368.1h.65M104.5 377.2h.65M103.0 377.9h.65M107.9 383.6h.65M97.1 383.1h.65M94.0 366.9h.65M105.6 372.5h.65M89.3 378.2h.65M96.5 380.1h.65M99.5 371.6h.65M96.3 381.8h.65M95.2 378.0h.65M94.9 380.1h.65M108.4 378.2h.65M105.1 378.1h.65M95.1 375.4h.65M100.1 379.0h.65M96.8 380.7h.65M96.2 377.4h.65M99.7 369.2h.65M104.6 375.7h.65M100.3 376.0h.65M89.5 369.6h.65M95.4 383.3h.65M96.9 380.6h.65M94.7 372.1h.65M97.5 383.3h.65M91.7 376.8h.65M101.7 376.8h.65M99.7 381.2h.65M101.1 369.8h.65M102.8 370.9h.65M98.1 385.6h.65M111.6 383.0h.65M101.8 371.1h.65M96.1 387.3h.65M101.3 367.4h.65M107.3 378.5h.65M106.1 377.6h.65M89.3 373.8h.65M99.0 375.4h.65M107.1 370.8h.65M99.3 376.1h.65M99.3 370.0h.65M93.8 361.5h.65M101.3 374.8h.65M100.7 369.6h.65M99.7 370.3h.65M94.8 379.4h.65M102.8 379.3h.65M99.5 374.0h.65M106.5 382.7h.65M96.7 370.2h.65M101.5 378.0h.65M95.3 391.3h.65M89.6 373.1h.65M100.9 382.2h.65M90.8 375.4h.65M106.7 383.7h.65M98.5 376.8h.65M95.4 379.6h.65M94.7 364.8h.65M92.4 378.1h.65M93.3 384.4h.65M105.9 381.3h.65M102.9 382.7h.65M101.0 381.4h.65M102.0 380.7h.65M94.8 373.2h.65M94.9 382.4h.65M102.2 371.0h.65M95.0 373.7h.65M103.9 374.8h.65M98.6 372.3h.65M99.2 386.3h.65M96.4 374.8h.65M107.9 379.2h.65M94.2 384.1h.65M93.6 381.0h.65M87.5 372.6h.65M104.2 371.8h.65M96.2 377.3h.65M99.7 373.4h.65M96.5 388.1h.65M107.0 377.0h.65M94.2 374.2h.65M98.3 379.6h.65M107.5 371.6h.65M100.4 373.5h.65M100.4 372.0h.65M101.6 383.1h.65M97.8 374.7h.65M100.3 368.1h.65M108.5 366.4h.65M98.0 371.2h.65M107.0 371.9h.65M97.3 388.5h.65M99.2 371.6h.65M99.7 377.5h.65M96.1 375.9h.65M98.7 381.0h.65M103.4 380.8h.65M99.1 381.4h.65M98.7 383.7h.65M101.7 373.3h.65M105.7 365.8h.65M95.1 372.3h.65M99.1 368.9h.65M93.9 365.8h.65M100.3 371.5h.65M110.3 379.1h.65M94.2 385.6h.65M100.2 382.9h.65M94.4 384.5h.65M105.0 372.7h.65M95.6 374.8h.65M101.0 390.9h.65M108.5 383.9h.65M98.7 374.5h.65M101.5 374.3h.65M97.5 375.5h.65M103.8 375.1h.65M100.9 374.5h.65M98.8 374.5h.65M105.8 376.6h.65M107.0 373.9h.65M104.9 366.8h.65M97.8 376.3h.65M96.7 376.2h.65M95.3 376.2h.65M96.5 376.9h.65M98.3 370.5h.65M97.8 376.9h.65M93.6 378.1h.65M105.8 373.8h.65M102.4 379.7h.65M95.9 385.2h.65M111.9 367.7h.65M110.1 370.0h.65M106.8 363.8h.65M105.2 376.1h.65M93.5 372.5h.65M94.7 371.8h.65M101.6 374.9h.65M87.6 376.8h.65M102.0 376.4h.65M107.9 363.4h.65M100.9 376.3h.65M103.2 367.4h.65M93.4 376.5h.65M100.1 365.1h.65M101.5 376.0h.65M103.3 359.6h.65M102.2 370.4h.65M97.4 381.6h.65M107.9 375.7h.65M99.2 384.5h.65M95.4 376.2h.65M97.3 370.8h.65M100.7 388.7h.65M100.9 379.2h.65M99.6 383.3h.65M100.6 370.7h.65M100.2 385.1h.65M99.3 383.8h.65M99.4 388.9h.65M101.1 380.1h.65M98.3 381.8h.65M98.6 367.4h.65M101.2 368.6h.65M106.9 379.8h.65M99.8 380.6h.65M87.2 388.2h.65M96.6 381.1h.65M112.1 364.0h.65M97.7 378.8h.65M101.8 365.5h.65M95.2 386.4h.65M96.8 380.3h.65M93.1 372.0h.65M90.9 379.7h.65M105.3 375.8h.65M98.4 378.1h.65M102.0 374.1h.65M102.4 387.9h.65M110.5 370.7h.65M93.6 389.3h.65M104.5 382.9h.65M102.7 374.4h.65M104.5 382.3h.65M105.4 368.6h.65M104.7 373.2h.65M98.0 378.9h.65M98.1 391.0h.65M102.5 377.5h.65M98.8 378.1h.65M98.6 380.2h.65M103.9 380.7h.65M93.7 375.5h.65M100.2 368.7h.65M101.6 375.1h.65M100.0 378.7h.65M96.7 386.5h.65M104.7 372.0h.65M102.0 380.5h.65M96.1 374.9h.65M103.1 359.8h.65M93.4 379.6h.65M102.7 370.1h.65M103.9 389.2h.65M100.8 375.9h.65M100.1 370.0h.65M102.4 376.9h.65M103.3 384.5h.65M99.9 377.4h.65M101.3 386.8h.65M92.7 377.7h.65M96.7 377.7h.65M103.8 376.0h.65M103.3 376.8h.65M96.3 373.0h.65M93.1 379.0h.65M97.9 381.9h.65M104.4 370.0h.65M94.5 381.1h.65M95.5 378.5h.65M102.7 373.4h.65M108.3 369.9h.65M101.8 373.4h.65M85.9 378.0h.65M99.0 380.1h.65M99.1 372.0h.65M97.3 375.0h.65M103.4 374.0h.65M105.7 380.5h.65M96.2 383.4h.65M88.8 378.6h.65M95.0 376.7h.65M105.3 375.3h.65M98.9 384.4h.65M96.1 372.0h.65M104.5 379.2h.65M92.9 378.6h.65M103.5 374.6h.65M97.8 377.6h.65M100.8 371.8h.65M103.8 365.9h.65M99.4 389.6h.65M94.6 377.1h.65M88.8 373.4h.65M94.2 377.8h.65M97.4 388.1h.65M95.3 377.0h.65M100.8 380.1h.65M104.1 365.9h.65M110.3 372.4h.65M96.3 366.9h.65M97.6 365.9h.65M100.6 372.5h.65M101.3 371.2h.65M100.1 390.0h.65M105.4 376.2h.65M95.0 386.3h.65M91.6 369.2h.65M106.0 371.5h.65M106.2 378.6h.65M110.2 385.3h.65M102.6 371.9h.65M102.6 384.4h.65M100.4 358.4h.65M97.9 374.4h.65M99.5 374.2h.65M105.2 367.5h.65M101.9 363.7h.65M89.3 372.1h.65M96.1 371.5h.65M96.3 380.7h.65M102.5 376.3h.65M100.7 371.9h.65M95.0 368.5h.65M97.7 369.7h.65M98.2 381.1h.65M102.4 384.0h.65M95.2 363.7h.65M94.4 389.6h.65M103.1 373.0h.65M106.1 372.5h.65M107.8 372.3h.65M97.8 381.0h.65M94.2 376.4h.65M109.0 377.2h.65M94.4 375.8h.65M99.6 371.7h.65M101.7 383.6h.65M99.9 381.7h.65M101.1 376.9h.65M96.1 382.9h.65M106.2 372.3h.65M95.5 380.3h.65M100.2 383.1h.65M102.1 375.0h.65M93.0 381.4h.65M100.2 368.4h.65M92.5 366.5h.65M102.7 373.0h.65M83.7 374.0h.65M96.6 376.2h.65M99.9 374.2h.65M103.3 381.9h.65M98.6 386.2h.65M99.1 371.1h.65M100.4 367.4h.65M98.3 370.1h.65M97.6 377.9h.65M87.9 381.0h.65M100.9 374.7h.65M103.1 377.7h.65M97.9 370.5h.65M103.2 380.3h.65M92.6 373.2h.65M94.0 382.5h.65M96.9 369.1h.65M106.9 377.7h.65M100.8 377.6h.65M98.8 376.7h.65M104.0 378.2h.65M97.5 377.3h.65M108.7 371.1h.65M93.3 378.2h.65M94.2 393.5h.65M102.7 379.3h.65M101.4 388.0h.65M94.8 376.9h.65M91.6 385.5h.65M99.3 387.2h.65M98.3 370.1h.65M96.3 381.9h.65M95.7 378.6h.65M96.2 372.6h.65M97.0 386.8h.65M94.5 379.2h.65M103.5 370.9h.65M92.4 386.9h.65M108.0 373.1h.65M93.9 382.7h.65M99.5 371.2h.65M97.8 361.9h.65M95.7 369.5h.65M93.3 381.1h.65M100.9 386.5h.65M86.7 374.6h.65M95.6 385.2h.65M104.7 376.0h.65M100.1 371.5h.65M97.1 374.0h.65M87.4 390.3h.65M103.2 388.4h.65M105.6 378.1h.65M103.7 365.0h.65M94.7 382.4h.65M97.8 366.6h.65M99.6 368.3h.65M98.1 389.3h.65M88.9 373.4h.65M102.5 374.1h.65M99.6 367.5h.65M95.3 354.8h.65M96.6 387.1h.65M89.0 375.7h.65M103.8 385.0h.65M107.5 365.3h.65M94.7 391.8h.65M94.3 378.8h.65M91.2 371.0h.65M74.0 375.9h.65M80.2 370.3h.65M90.1 389.2h.65M104.2 377.5h.65M93.8 363.9h.65M101.9 367.1h.65M97.1 384.0h.65M96.5 375.4h.65M89.9 386.5h.65M102.3 380.7h.65M111.2 357.8h.65M98.2 381.0h.65M100.7 377.5h.65M101.8 360.8h.65M97.4 385.9h.65M97.6 373.7h.65M104.8 358.1h.65M101.2 388.2h.65M95.9 368.4h.65M102.3 370.3h.65M91.4 378.3h.65M84.5 384.3h.65M88.3 372.6h.65M103.9 373.7h.65M100.1 387.2h.65M110.3 391.2h.65M93.5 384.5h.65M84.6 385.5h.65M108.6 366.4h.65M101.8 382.0h.65M96.7 369.9h.65M110.2 360.8h.65M99.3 383.5h.65M99.9 389.0h.65M110.0 376.8h.65M112.4 378.8h.65M88.0 374.7h.65M100.2 376.5h.65M85.3 368.1h.65M101.6 376.3h.65M110.5 374.5h.65M101.0 381.2h.65M92.1 365.1h.65M94.3 385.3h.65M95.7 387.0h.65M93.5 383.1h.65M98.2 382.8h.65M98.1 377.1h.65M94.2 387.4h.65M97.7 379.9h.65M103.3 366.2h.65M91.3 376.5h.65M108.4 363.6h.65M89.8 368.4h.65M94.9 366.5h.65M91.4 381.6h.65M89.2 377.3h.65M88.5 375.7h.65M102.3 356.5h.65M98.5 377.3h.65M97.6 377.8h.65M101.4 363.0h.65M97.0 381.4h.65M108.5 360.9h.65M93.2 364.2h.65M97.9 365.9h.65M90.1 384.0h.65M116.2 352.9h.65M111.4 364.2h.65M103.6 377.3h.65M108.1 371.3h.65M91.3 376.3h.65M104.4 366.0h.65M101.4 374.6h.65M99.5 375.1h.65M102.9 381.5h.65M95.7 372.8h.65M80.7 371.5h.65M85.7 384.2h.65M89.3 371.1h.65M102.3 383.3h.65M107.9 365.6h.65M100.0 384.5h.65M91.2 374.9h.65M88.2 371.9h.65M103.8 374.9h.65M95.1 371.1h.65M110.4 379.4h.65M94.8 374.8h.65M94.1 371.2h.65M103.3 361.4h.65M98.3 372.4h.65M112.2 375.7h.65M101.6 379.3h.65M102.9 375.4h.65M78.3 383.6h.65M95.5 382.3h.65M100.6 370.0h.65M90.9 368.0h.65M100.4 374.0h.65M91.0 373.8h.65M100.9 368.9h.65M97.1 370.2h.65M77.2 380.9h.65M98.6 382.5h.65M108.6 366.6h.65M102.9 376.7h.65M98.7 382.7h.65M105.2 362.6h.65M110.0 371.2h.65M92.7 370.5h.65M96.3 365.9h.65M106.9 377.3h.65M90.9 384.4h.65M100.0 375.7h.65M105.9 372.9h.65M96.0 380.4h.65M83.4 368.1h.65M102.2 384.0h.65M84.6 378.6h.65M92.8 374.1h.65M103.0 387.6h.65M112.3 380.6h.65M103.3 375.6h.65M83.1 382.3h.65M88.5 367.7h.65M99.1 361.2h.65M112.4 377.6h.65M101.1 379.1h.65M100.1 375.6h.65M103.8 368.2h.65M100.3 376.4h.65M104.4 364.3h.65M100.1 373.8h.65M103.2 379.1h.65M99.6 379.2h.65M101.7 386.7h.65M100.6 379.6h.65M90.6 375.3h.65M104.3 383.4h.65M90.3 376.8h.65M96.0 376.4h.65M94.3 372.6h.65M97.6 376.7h.65M106.3 366.1h.65M90.4 384.2h.65M102.2 372.9h.65M88.9 386.9h.65M89.5 387.4h.65M100.1 373.7h.65M96.8 383.0h.65M98.2 360.1h.65M92.5 357.7h.65M101.3 382.9h.65M106.4 361.7h.65M115.2 387.7h.65M97.2 358.1h.65M91.1 386.3h.65M114.7 367.0h.65M83.3 370.2h.65M113.5 372.0h.65M86.9 359.5h.65M103.2 381.4h.65M94.3 374.5h.65M98.8 372.3h.65M93.7 371.3h.65M93.4 387.4h.65M101.3 383.8h.65M112.9 351.9h.65M97.6 384.0h.65M96.4 370.5h.65M101.3 370.0h.65M91.4 374.2h.65M98.6 375.4h.65M105.3 374.0h.65M96.3 373.5h.65M97.0 369.5h.65M85.5 380.0h.65M109.8 356.7h.65M92.0 380.6h.65M92.7 381.3h.65M97.7 365.8h.65M96.4 371.3h.65M102.5 352.0h.65M101.4 386.5h.65M99.3 377.3h.65M93.8 379.4h.65M96.9 364.4h.65M88.6 357.1h.65M101.6 376.2h.65M106.9 375.7h.65M103.7 362.3h.65M83.2 373.7h.65M95.5 379.2h.65M97.1 374.2h.65M98.5 377.6h.65M99.7 377.9h.65M94.1 375.5h.65M86.3 368.2h.65M95.9 379.7h.65M92.1 364.4h.65M105.8 366.3h.65M84.3 370.0h.65M88.6 356.2h.65M95.0 391.0h.65M92.2 369.5h.65M107.3 374.1h.65M97.3 387.6h.65M88.7 377.0h.65M102.2 376.3h.65M88.7 369.3h.65M112.4 371.4h.65M96.0 385.4h.65M83.8 378.2h.65M84.0 390.9h.65M90.2 378.2h.65M90.7 378.2h.65M100.7 374.9h.65M95.6 378.2h.65M96.2 371.4h.65M103.2 381.8h.65M87.3 369.0h.65M91.9 379.4h.65M86.9 391.7h.65M98.5 376.7h.65M105.1 367.3h.65M101.1 378.4h.65M108.5 363.9h.65M109.2 378.2h.65M100.2 384.4h.65M96.2 374.2h.65M104.8 370.9h.65M106.8 385.6h.65M99.9 376.7h.65M93.0 368.6h.65M109.7 363.8h.65M98.9 377.9h.65M91.0 371.1h.65M101.2 387.1h.65M114.4 380.8h.65M108.7 369.3h.65M92.7 389.5h.65M109.9 363.9h.65M107.4 376.1h.65M104.6 382.6h.65M113.4 366.6h.65M98.3 386.7h.65M96.2 380.8h.65M97.7 360.7h.65M93.9 384.3h.65M93.9 363.0h.65M94.3 377.4h.65M102.2 377.6h.65M102.5 365.4h.65M93.5 369.9h.65M94.8 380.3h.65M109.0 371.2h.65M106.8 383.5h.65M89.2 370.5h.65M99.6 363.2h.65M113.3 355.8h.65M88.6 384.7h.65M92.4 383.2h.65M90.5 386.7h.65M93.7 383.1h.65M106.4 360.7h.65M91.3 361.9h.65M89.5 385.8h.65M98.1 383.2h.65M109.8 382.2h.65M104.2 370.6h.65M95.3 379.2h.65M105.3 383.7h.65M100.8 372.6h.65M97.8 390.5h.65M100.7 392.8h.65M92.7 384.7h.65M100.2 382.0h.65M92.5 380.0h.65M97.9 373.4h.65M88.9 365.4h.65M95.8 381.1h.65M100.5 377.4h.65M101.0 363.3h.65M107.0 374.5h.65M92.5 372.3h.65M106.4 375.7h.65M86.7 393.5h.65M105.3 365.4h.65M108.4 384.6h.65M106.8 379.6h.65M101.1 377.1h.65M94.3 379.1h.65M108.7 372.6h.65M114.2 358.6h.65M98.8 362.7h.65M84.5 381.2h.65M95.9 371.5h.65M90.1 375.6h.65M85.6 377.0h.65M94.3 365.8h.65M101.8 358.7h.65M101.9 377.4h.65M102.7 376.0h.65M104.9 372.1h.65M89.9 381.1h.65M92.2 374.0h.65M99.5 367.4h.65M106.4 360.5h.65M108.3 373.3h.65M112.0 382.5h.65M103.9 377.1h.65M99.5 363.5h.65M89.7 333.7h.65M88.8 338.6h.65M88.3 340.2h.65M91.5 337.9h.65M95.4 346.4h.65M85.0 335.2h.65M110.5 352.0h.65M95.8 337.5h.65M98.9 355.6h.65M96.5 343.0h.65M93.2 329.2h.65M96.6 341.9h.65M95.4 345.8h.65M94.3 356.8h.65M98.5 340.6h.65M96.7 348.3h.65M93.3 351.6h.65M90.9 328.9h.65M86.7 340.9h.65M87.1 339.6h.65M84.0 339.4h.65M91.5 334.9h.65M89.7 338.2h.65M98.5 346.6h.65M91.8 342.3h.65M98.3 348.1h.65M103.5 343.0h.65M97.9 345.5h.65M89.3 343.8h.65M98.0 351.4h.65M95.9 337.6h.65M94.1 345.1h.65M103.0 348.4h.65M94.0 353.0h.65M93.4 339.1h.65M94.8 348.1h.65M94.0 331.1h.65M90.7 347.3h.65M88.6 345.2h.65M94.1 337.1h.65M97.8 330.2h.65M80.6 324.4h.65M96.2 341.9h.65M96.8 343.5h.65M93.8 338.8h.65M90.7 347.2h.65M97.6 335.6h.65M96.5 357.5h.65M97.6 338.1h.65M97.5 345.9h.65M91.2 347.4h.65M100.3 342.6h.65M93.8 339.7h.65M93.1 352.7h.65M90.5 344.3h.65M94.6 343.4h.65M86.4 342.3h.65M86.5 343.1h.65M92.5 342.5h.65M90.3 334.6h.65M87.0 338.5h.65M92.6 343.6h.65M91.3 346.1h.65M93.9 343.2h.65M91.6 341.0h.65M96.9 339.4h.65M85.9 340.5h.65M95.5 343.5h.65M94.5 334.0h.65M87.3 338.6h.65M92.9 333.5h.65M95.8 330.8h.65M100.4 339.1h.65M89.7 333.0h.65M85.1 335.2h.65M81.8 333.3h.65M94.0 340.5h.65M92.9 332.2h.65M82.1 326.8h.65M99.3 347.6h.65M82.4 347.3h.65M96.7 351.3h.65M99.0 354.0h.65M83.0 336.7h.65M88.4 352.2h.65M97.1 344.2h.65M91.5 326.9h.65M93.6 336.6h.65M101.0 351.4h.65M92.6 339.0h.65M99.5 342.0h.65M99.5 346.9h.65M91.3 343.4h.65M103.3 337.0h.65M97.4 349.3h.65M91.5 350.8h.65M97.0 347.8h.65M87.1 342.3h.65M85.4 340.9h.65M105.7 343.1h.65M102.2 339.9h.65M93.4 346.9h.65M84.5 339.2h.65M88.4 335.1h.65M98.0 344.2h.65M95.4 343.3h.65M95.3 353.5h.65M93.7 340.4h.65M93.2 346.7h.65M95.7 329.1h.65M92.6 344.5h.65M108.5 346.7h.65M91.4 333.2h.65M92.6 329.8h.65M88.0 338.5h.65M84.1 335.0h.65M88.9 348.0h.65M102.4 361.4h.65M93.8 346.8h.65M107.0 345.5h.65M103.1 341.5h.65M99.3 334.9h.65M90.6 339.2h.65M91.5 327.9h.65M93.7 340.3h.65M101.8 350.8h.65M80.1 335.4h.65M99.3 344.8h.65M88.8 330.3h.65M90.8 334.3h.65M91.4 338.7h.65M100.6 339.5h.65M95.0 335.6h.65M94.6 349.7h.65M89.6 331.9h.65M93.2 342.1h.65M89.2 342.5h.65M93.4 346.6h.65M84.8 342.2h.65M100.5 340.6h.65M104.8 350.1h.65M85.3 330.2h.65M88.6 334.9h.65M91.6 343.0h.65M91.8 339.0h.65M87.3 324.8h.65M88.8 331.1h.65M98.2 328.5h.65M99.8 326.4h.65M91.8 341.2h.65M86.4 331.5h.65M98.2 337.5h.65M92.4 341.8h.65M96.9 335.5h.65M100.8 345.2h.65M99.0 335.7h.65M99.5 344.9h.65M97.6 340.1h.65M98.1 345.0h.65M81.7 352.2h.65M89.0 342.7h.65M91.8 338.1h.65M90.7 346.7h.65M98.6 351.2h.65M83.2 341.7h.65M84.0 352.3h.65M95.3 350.8h.65M93.0 342.7h.65M88.7 352.9h.65M91.0 348.1h.65M88.1 338.0h.65M90.6 339.7h.65M89.9 344.4h.65M96.9 333.2h.65M90.3 331.4h.65M99.4 337.0h.65M95.8 344.4h.65M92.6 328.4h.65M103.1 346.6h.65M97.1 351.3h.65M87.0 331.7h.65M103.3 360.8h.65M88.1 338.4h.65M98.7 344.0h.65M100.9 350.4h.65M92.5 346.1h.65M90.1 348.8h.65M89.0 348.4h.65M108.0 338.5h.65M103.2 337.6h.65M92.6 354.0h.65M99.5 350.1h.65M95.2 344.3h.65M95.8 342.1h.65M91.3 332.5h.65M103.5 347.7h.65M104.4 353.4h.65M95.7 335.9h.65M91.5 341.3h.65M92.3 339.4h.65M79.3 331.3h.65M91.5 337.7h.65M91.1 330.2h.65M87.9 348.9h.65M87.3 335.1h.65M88.0 337.9h.65M89.9 353.7h.65M86.8 347.5h.65M90.2 343.3h.65M108.2 350.5h.65M93.0 322.4h.65M91.0 339.2h.65M93.8 343.9h.65M86.4 331.7h.65M97.6 342.7h.65M93.2 346.5h.65M93.7 343.3h.65M86.5 338.2h.65M82.8 348.1h.65M88.4 350.7h.65M90.1 339.3h.65M100.9 347.8h.65M94.2 340.7h.65M91.5 336.0h.65M88.4 327.2h.65M92.2 336.1h.65M101.5 361.2h.65M104.5 340.4h.65M90.9 339.9h.65M83.9 347.3h.65M97.4 346.4h.65M104.7 352.0h.65M91.3 342.9h.65M90.3 343.7h.65M85.2 341.0h.65M91.3 338.1h.65M90.8 339.9h.65M82.6 340.1h.65M91.9 353.6h.65M93.0 348.4h.65M92.9 341.0h.65M85.8 334.7h.65M89.6 323.6h.65M91.3 336.1h.65M95.0 350.1h.65M91.3 349.1h.65M100.6 351.5h.65M91.1 341.6h.65M103.0 358.2h.65M100.0 334.2h.65M79.5 346.4h.65M97.4 353.7h.65M96.6 342.0h.65M95.9 343.4h.65M102.2 353.0h.65M87.4 333.7h.65M99.3 351.6h.65M94.9 345.5h.65M85.6 332.0h.65M96.3 331.4h.65M96.1 347.8h.65M97.1 350.2h.65M104.7 350.7h.65M88.3 327.7h.65M79.6 335.1h.65M98.5 333.8h.65M94.2 337.9h.65M91.6 342.8h.65M93.4 334.2h.65M97.7 343.8h.65M81.9 341.0h.65M102.7 344.9h.65M102.9 336.9h.65M91.7 350.2h.65M101.1 350.2h.65M99.6 343.0h.65M97.5 351.2h.65M98.9 348.0h.65M98.3 348.0h.65M96.9 333.7h.65M96.8 337.8h.65M90.9 341.3h.65M94.7 334.0h.65M90.0 342.0h.65M90.7 340.9h.65M94.6 344.4h.65M89.9 341.5h.65M96.6 335.5h.65M97.9 338.0h.65M95.4 347.6h.65M97.0 336.3h.65M87.6 330.9h.65M96.6 345.0h.65M82.3 341.0h.65M100.3 342.6h.65M92.7 343.5h.65M87.1 335.7h.65M96.5 341.7h.65M93.1 342.8h.65M103.5 349.8h.65M95.2 340.0h.65M100.6 346.8h.65M93.0 351.0h.65M101.3 340.4h.65M91.3 349.7h.65M90.3 351.2h.65M92.2 354.8h.65M87.3 325.5h.65M84.4 350.6h.65M88.8 336.6h.65M89.7 335.1h.65M94.1 343.5h.65M89.4 336.3h.65M101.2 353.2h.65M99.1 354.0h.65M92.0 347.4h.65M103.1 342.1h.65M101.3 330.0h.65M81.6 325.5h.65M87.1 332.0h.65M90.2 345.9h.65M88.7 337.0h.65M85.3 326.7h.65M92.0 336.3h.65M98.5 345.8h.65M82.2 340.7h.65M85.9 335.2h.65M86.8 332.8h.65M89.5 331.8h.65M88.6 337.5h.65M97.4 349.2h.65M103.8 337.0h.65M90.7 348.9h.65M86.2 336.9h.65M97.4 354.9h.65M96.5 346.1h.65M92.1 345.6h.65M93.7 344.6h.65M89.2 338.8h.65M87.7 331.4h.65M87.9 333.2h.65M89.0 335.6h.65M83.9 338.7h.65M94.9 353.5h.65M78.8 324.1h.65M87.2 332.6h.65M93.4 336.3h.65M88.4 344.2h.65M91.9 330.2h.65M98.7 360.3h.65M99.8 344.6h.65M101.2 346.0h.65M90.9 342.3h.65M100.8 347.0h.65M91.2 331.4h.65M94.1 335.1h.65M92.4 332.0h.65M87.8 332.2h.65M89.0 331.8h.65M100.4 351.3h.65M91.0 333.6h.65M99.5 343.9h.65M96.4 350.6h.65M90.5 343.4h.65M95.7 340.4h.65M91.9 337.0h.65M72.6 327.5h.65M102.9 354.4h.65M109.3 351.6h.65M98.3 340.6h.65M88.5 333.3h.65M95.7 348.6h.65M81.5 340.0h.65M98.4 350.3h.65M85.3 338.8h.65M94.9 333.9h.65M86.2 352.8h.65M88.9 336.1h.65M81.3 330.9h.65M101.1 349.1h.65M87.9 339.1h.65M95.1 347.0h.65M87.0 340.9h.65M89.0 336.1h.65M87.8 333.4h.65M95.9 331.5h.65M94.1 360.8h.65M87.6 336.8h.65M92.5 352.1h.65M84.4 340.7h.65M92.4 354.7h.65M91.7 354.5h.65M87.2 340.9h.65M86.4 334.0h.65M85.5 334.7h.65M102.2 343.4h.65M107.7 361.0h.65M94.8 342.8h.65M94.8 337.7h.65M96.5 344.4h.65M81.2 335.3h.65M96.4 344.0h.65M94.8 342.8h.65M90.0 347.2h.65M101.3 344.4h.65M97.7 337.1h.65M100.4 340.4h.65M93.2 348.2h.65M89.9 340.3h.65M98.9 341.4h.65M94.9 350.2h.65M94.4 337.3h.65M90.6 338.7h.65M93.0 346.0h.65M83.7 335.9h.65M94.1 352.5h.65M84.2 330.8h.65M98.2 344.4h.65M99.4 345.1h.65M89.1 339.1h.65M100.2 350.7h.65M94.1 343.3h.65M99.3 349.5h.65M94.4 347.4h.65M93.5 334.6h.65M98.2 352.8h.65M101.2 346.0h.65M85.8 340.4h.65M89.4 327.2h.65M93.8 337.1h.65M93.3 338.7h.65M97.7 350.1h.65M95.9 351.2h.65M89.8 355.7h.65M82.7 340.8h.65M99.0 342.5h.65M93.6 334.1h.65M90.3 342.1h.65M85.4 324.4h.65M90.8 334.9h.65M87.2 337.3h.65M84.8 344.3h.65M99.7 345.7h.65M89.4 339.3h.65M92.3 336.0h.65M89.1 342.3h.65M87.6 334.4h.65M90.2 333.5h.65M94.4 334.0h.65M98.3 349.5h.65M92.7 347.2h.65M99.3 342.7h.65M92.6 337.4h.65M90.7 337.8h.65M93.4 345.3h.65M105.7 351.2h.65M98.4 343.3h.65M102.5 347.9h.65M91.8 339.2h.65M93.0 339.1h.65M93.9 353.9h.65M93.3 336.8h.65M82.0 334.7h.65M87.0 333.2h.65M93.7 344.3h.65M95.6 350.7h.65M87.3 334.1h.65M87.7 332.0h.65M89.0 333.8h.65M96.8 336.8h.65M102.7 350.9h.65M99.8 351.7h.65M97.0 352.0h.65M98.0 358.8h.65M97.1 354.2h.65M95.9 353.0h.65M96.2 353.7h.65M98.1 360.4h.65M96.5 348.7h.65M97.2 359.8h.65M95.8 357.5h.65M95.5 351.2h.65M98.4 350.1h.65M97.1 346.3h.65M95.7 357.5h.65M96.9 353.8h.65M99.1 353.8h.65M95.5 354.4h.65M97.8 357.4h.65M97.6 361.2h.65M99.1 356.8h.65M102.8 352.7h.65M98.5 354.1h.65M102.5 359.6h.65M99.7 359.0h.65M101.1 355.9h.65M99.9 351.0h.65M99.1 361.6h.65M99.8 359.8h.65M93.9 355.7h.65M97.2 362.3h.65M99.1 359.7h.65M100.7 359.8h.65M95.0 352.7h.65M93.5 359.8h.65M97.5 351.8h.65M99.0 355.6h.65M97.3 361.5h.65M93.5 349.7h.65M97.7 355.8h.65M100.3 356.3h.65M99.0 363.8h.65M95.0 350.4h.65M96.4 355.5h.65M95.6 356.9h.65M96.3 360.5h.65M99.0 359.8h.65M98.4 357.8h.65M94.4 354.7h.65M94.1 360.4h.65M95.5 352.5h.65M96.9 364.8h.65M95.5 362.3h.65M98.2 366.7h.65M97.4 354.6h.65M97.9 354.7h.65M96.4 358.9h.65M96.9 359.8h.65M99.2 360.8h.65M101.3 362.1h.65M95.9 361.1h.65M92.6 359.7h.65M100.5 353.7h.65M100.6 350.7h.65M100.1 356.0h.65M97.3 355.9h.65M96.7 359.2h.65M97.8 356.6h.65M98.0 355.5h.65M95.8 358.3h.65M99.7 353.0h.65M100.0 362.4h.65M98.3 362.5h.65M93.3 360.4h.65M96.3 357.4h.65M96.0 365.4h.65M97.0 359.0h.65M94.8 354.6h.65M98.8 356.7h.65M96.3 361.9h.65M94.6 356.0h.65M97.6 355.3h.65M99.3 358.2h.65M97.5 359.2h.65M97.8 358.8h.65M100.6 358.7h.65M98.1 354.7h.65M100.9 361.6h.65M99.1 358.4h.65M96.2 356.5h.65" stroke="#111" stroke-width="0.65" fill="none"/>
<rect x="76.25" y="320.75" width="41.25" height="33.5" fill="none" stroke="#111" stroke-width="1.1"/>
<rect x="76.25" y="361.25" width="41.25" height="33.25" fill="none" stroke="#111" stroke-width="1.1"/>
<text x="52.4" y="342.6" font-size="14.3" font-weight="bold">B2</text>
<text x="52.4" y="383.1" font-size="14.3" font-weight="bold">B1</text>
<line x1="14.8" y1="308.75" x2="14.8" y2="395.5" stroke="#000" stroke-width="1.4"/>
<line x1="25.75" y1="410" x2="145.75" y2="410" stroke="#000" stroke-width="1.4"/>
<text x="0" y="0" text-anchor="middle" transform="translate(12.2 352) rotate(-90)">CD23</text>
<text x="94" y="426.8" text-anchor="middle">CD19</text>
<text x="86" y="304.3" text-anchor="middle">PBS</text>
<rect x="179.25" y="311.4" width="116.5" height="82.35" fill="none" stroke="#6e6e6e" stroke-width="0.75"/>
<line x1="180.25" y1="393.75" x2="294.75" y2="393.75" stroke="#fff" stroke-width="1.2" stroke-dasharray="1.2 1.6"/>
<text x="0" y="0" text-anchor="middle" font-size="4" style="fill:#686868;stroke:none" transform="translate(176.25 311.9) rotate(-90)">10⁴</text>
<text x="0" y="0" text-anchor="middle" font-size="4" style="fill:#686868;stroke:none" transform="translate(176.25 332.7) rotate(-90)">10³</text>
<text x="0" y="0" text-anchor="middle" font-size="4" style="fill:#686868;stroke:none" transform="translate(176.25 353.4) rotate(-90)">10²</text>
<text x="0" y="0" text-anchor="middle" font-size="4" style="fill:#686868;stroke:none" transform="translate(176.25 373.9) rotate(-90)">10¹</text>
<text x="0" y="0" text-anchor="middle" font-size="4" style="fill:#686868;stroke:none" transform="translate(176.25 392.25) rotate(-90)">10⁰</text>
<text x="182.75" y="398.35" text-anchor="middle" font-size="4" style="fill:#686868;stroke:none">10⁰</text>
<text x="211.95" y="398.35" text-anchor="middle" font-size="4" style="fill:#686868;stroke:none">10¹</text>
<text x="241.15" y="398.35" text-anchor="middle" font-size="4" style="fill:#686868;stroke:none">10²</text>
<text x="270.35" y="398.35" text-anchor="middle" font-size="4" style="fill:#686868;stroke:none">10³</text>
<text x="299.55" y="398.35" text-anchor="middle" font-size="4" style="fill:#686868;stroke:none">10⁴</text>
<path d="M254.0 371.4h.65M249.2 374.8h.65M246.1 373.5h.65M247.1 375.4h.65M249.4 379.9h.65M248.9 380.1h.65M249.5 376.1h.65M247.7 371.7h.65M244.2 375.3h.65M247.8 376.9h.65M249.1 370.6h.65M246.4 371.1h.65M250.8 375.1h.65M248.6 372.0h.65M245.0 373.2h.65M248.0 377.4h.65M244.3 376.8h.65M246.0 373.5h.65M247.4 373.8h.65M249.4 379.0h.65M249.1 373.4h.65M249.3 377.0h.65M250.4 376.6h.65M244.1 372.5h.65M247.2 379.2h.65M247.9 379.1h.65M249.0 370.8h.65M248.3 377.7h.65M249.3 369.7h.65M249.3 373.2h.65M242.8 373.3h.65M243.2 370.5h.65M251.9 385.2h.65M250.9 377.2h.65M253.1 376.9h.65M245.7 365.8h.65M250.5 366.6h.65M240.9 372.9h.65M248.4 372.1h.65M250.9 375.2h.65M248.8 377.3h.65M246.7 376.4h.65M254.2 371.8h.65M248.7 377.6h.65M246.8 375.4h.65M243.8 373.8h.65M248.3 380.0h.65M250.7 373.3h.65M245.4 382.9h.65M250.6 368.0h.65M247.4 372.0h.65M246.7 368.7h.65M247.2 373.5h.65M247.7 379.7h.65M248.9 370.7h.65M243.8 373.5h.65M251.3 379.4h.65M246.8 380.2h.65M249.4 373.2h.65M249.4 375.3h.65M245.4 373.9h.65M248.7 380.9h.65M245.6 376.6h.65M248.4 375.5h.65M245.1 380.7h.65M251.7 382.1h.65M249.5 381.6h.65M249.7 379.7h.65M247.5 376.6h.65M247.5 371.5h.65M247.2 371.2h.65M245.4 374.1h.65M246.8 384.0h.65M253.0 380.0h.65M250.4 372.2h.65M249.1 369.9h.65M246.7 373.8h.65M247.4 379.2h.65M246.3 385.4h.65M247.0 379.1h.65M244.2 379.4h.65M245.1 376.5h.65M248.3 379.0h.65M249.9 377.3h.65M248.0 383.6h.65M247.1 375.8h.65M247.1 376.3h.65M245.8 374.1h.65M249.7 373.4h.65M249.6 373.4h.65M252.1 375.2h.65M252.9 377.7h.65M248.0 379.5h.65M251.4 381.9h.65M252.0 379.3h.65M245.3 379.5h.65M248.1 377.4h.65M251.7 372.8h.65M251.8 385.4h.65M249.8 374.5h.65M251.9 376.5h.65M251.1 380.8h.65M244.4 377.0h.65M244.4 372.9h.65M249.9 370.9h.65M246.5 373.9h.65M249.2 377.1h.65M249.5 373.7h.65M246.4 377.4h.65M246.1 372.4h.65M250.2 372.5h.65M246.0 380.2h.65M248.2 366.7h.65M246.3 383.5h.65M255.7 374.5h.65M250.1 378.6h.65M249.1 368.3h.65M250.9 376.8h.65M247.7 369.1h.65M246.7 375.2h.65M247.6 376.6h.65M247.3 379.7h.65M249.9 371.0h.65M246.7 377.3h.65M246.9 381.3h.65M246.9 376.6h.65M249.9 371.1h.65M251.6 374.8h.65M246.4 372.8h.65M243.9 370.2h.65M252.2 375.1h.65M247.6 376.4h.65M249.8 372.4h.65M247.7 376.7h.65M250.9 376.6h.65M252.6 374.8h.65M247.4 370.1h.65M248.2 378.2h.65M247.6 374.9h.65M245.7 373.3h.65M247.1 375.3h.65M251.1 377.7h.65M250.7 380.3h.65M247.1 381.0h.65M248.4 370.3h.65M246.7 375.3h.65M244.3 384.9h.65M248.2 379.0h.65M245.1 376.0h.65M249.0 372.6h.65M248.9 375.6h.65M249.2 370.8h.65M249.6 374.5h.65M246.0 366.8h.65M247.8 374.1h.65M254.4 370.8h.65M252.1 380.6h.65M249.3 376.6h.65M249.6 369.7h.65M251.9 374.3h.65M246.3 375.6h.65M241.1 370.3h.65M245.2 369.3h.65M249.8 382.0h.65M248.3 374.3h.65M249.1 373.5h.65M248.6 377.2h.65M247.6 373.9h.65M248.4 375.8h.65M250.0 369.5h.65M245.3 373.6h.65M249.5 370.4h.65M251.4 381.3h.65M246.3 380.0h.65M242.8 375.1h.65M244.0 379.8h.65M250.4 377.5h.65M246.7 371.0h.65M249.3 373.4h.65M249.9 369.1h.65M249.3 377.5h.65M242.3 370.4h.65M246.3 373.0h.65M243.7 375.5h.65M245.2 375.1h.65M243.4 370.7h.65M249.9 368.5h.65M248.0 381.2h.65M250.2 370.1h.65M253.9 373.2h.65M250.6 379.2h.65M247.3 377.9h.65M240.9 375.7h.65M248.5 374.0h.65M248.4 379.6h.65M250.6 372.9h.65M250.2 380.1h.65M248.4 376.9h.65M241.7 369.1h.65M249.1 369.4h.65M250.3 380.0h.65M245.5 370.7h.65M247.6 376.2h.65M250.2 374.4h.65M248.2 371.3h.65M248.8 372.2h.65M250.7 378.1h.65M243.8 376.7h.65M245.2 379.2h.65M245.4 380.4h.65M250.9 383.1h.65M248.9 375.5h.65M251.2 370.4h.65M248.0 374.0h.65M247.9 369.0h.65M243.7 368.5h.65M251.9 373.9h.65M249.7 374.8h.65M247.4 380.5h.65M242.0 374.4h.65M246.0 371.6h.65M243.9 369.1h.65M244.9 379.6h.65M246.3 373.4h.65M247.6 377.8h.65M250.7 376.0h.65M248.1 377.4h.65M246.0 376.1h.65M252.4 372.7h.65M245.8 369.1h.65M248.2 377.8h.65M247.0 374.0h.65M251.1 375.4h.65M249.9 373.8h.65M251.4 378.9h.65M247.7 372.9h.65M254.7 371.0h.65M245.6 365.4h.65M249.9 375.6h.65M247.9 369.2h.65M248.1 372.2h.65M245.1 374.4h.65M248.9 374.7h.65M246.8 378.3h.65M248.7 373.9h.65M249.6 376.5h.65M250.5 378.6h.65M250.0 373.0h.65M251.5 379.3h.65M246.7 380.3h.65M248.4 371.4h.65M248.0 370.3h.65M251.0 370.4h.65M251.9 371.9h.65M247.8 380.4h.65M249.0 368.9h.65M247.8 368.2h.65M249.9 371.3h.65M247.9 374.9h.65M244.3 376.7h.65M252.7 371.8h.65M246.7 376.9h.65M251.3 371.9h.65M248.7 376.8h.65M250.9 372.2h.65M254.5 383.5h.65M244.7 372.3h.65M249.1 372.9h.65M246.8 375.5h.65M246.3 373.0h.65M248.7 373.9h.65M249.1 379.6h.65M251.1 375.8h.65M253.5 373.9h.65M250.5 382.6h.65M248.7 378.7h.65M247.0 373.3h.65M248.7 377.4h.65M249.2 378.1h.65M249.0 375.2h.65M246.7 375.1h.65M248.4 375.5h.65M245.5 380.5h.65M251.0 376.5h.65M247.0 379.9h.65M247.7 374.6h.65M249.8 373.4h.65M248.6 373.7h.65M249.8 377.3h.65M250.1 377.3h.65M249.1 377.1h.65M250.3 371.9h.65M245.3 375.9h.65M248.7 374.7h.65M252.1 377.5h.65M251.5 376.0h.65M244.8 370.3h.65M251.0 375.8h.65M247.1 380.7h.65M252.7 377.2h.65M251.6 374.5h.65M245.9 369.2h.65M251.1 369.6h.65M247.3 375.9h.65M249.8 368.4h.65M247.7 372.5h.65M252.0 374.9h.65M246.7 382.3h.65M248.7 378.7h.65M249.1 375.0h.65M250.2 372.9h.65M244.8 373.1h.65M249.9 374.2h.65M251.0 378.4h.65M248.8 379.9h.65M249.3 376.9h.65M247.6 375.3h.65M248.1 379.7h.65M252.3 379.9h.65M248.9 375.2h.65M249.0 373.5h.65M248.3 374.4h.65M248.2 366.5h.65M248.3 378.2h.65M245.6 382.5h.65M248.7 373.5h.65M251.9 372.0h.65M255.1 372.9h.65M250.7 381.2h.65M250.1 376.2h.65M246.6 375.1h.65M248.9 379.5h.65M242.8 378.1h.65M245.5 373.3h.65M248.1 373.3h.65M249.8 369.4h.65M249.5 371.8h.65M247.4 375.4h.65M244.8 377.3h.65M253.7 373.2h.65M244.4 385.8h.65M254.8 360.2h.65M246.6 369.9h.65M248.7 374.3h.65M244.0 372.8h.65M252.5 368.1h.65M249.0 379.2h.65M255.0 376.8h.65M249.0 368.6h.65M249.1 383.9h.65M249.9 383.0h.65M246.2 380.7h.65M247.1 370.6h.65M245.6 383.6h.65M250.4 373.5h.65M247.0 380.7h.65M246.3 383.0h.65M249.3 371.1h.65M247.3 368.2h.65M243.7 372.4h.65M246.1 373.0h.65M245.0 371.1h.65M249.4 365.9h.65M237.8 388.3h.65M248.5 376.3h.65M252.8 382.0h.65M253.9 380.5h.65M251.2 377.9h.65M247.6 374.4h.65M233.5 388.7h.65M247.6 368.5h.65M252.8 369.6h.65M249.6 369.1h.65M243.4 383.4h.65M248.6 364.6h.65M250.8 380.8h.65M246.9 380.1h.65M253.4 382.2h.65M250.7 379.9h.65M254.7 375.5h.65M247.0 373.5h.65M261.2 366.1h.65M248.2 362.7h.65M247.9 373.9h.65M247.8 380.4h.65M254.1 375.7h.65M244.9 372.3h.65M248.2 370.2h.65M247.8 378.7h.65M249.0 388.7h.65M241.4 377.2h.65M252.4 367.0h.65M241.1 390.4h.65M252.0 378.1h.65M253.0 367.5h.65M243.4 386.5h.65M248.5 364.1h.65M247.5 385.9h.65M243.7 365.0h.65M238.6 375.6h.65M247.7 370.7h.65M245.8 373.5h.65M245.4 371.6h.65M252.0 374.6h.65M250.2 362.1h.65M244.3 382.6h.65M248.6 381.9h.65M242.1 380.4h.65M245.7 375.5h.65M245.2 369.0h.65M243.7 374.9h.65M252.3 367.1h.65M245.6 368.8h.65M244.6 380.2h.65M246.3 368.9h.65M250.9 376.9h.65M249.5 375.8h.65M245.6 381.0h.65M245.5 377.0h.65M248.7 382.8h.65M247.4 380.7h.65M241.1 377.1h.65M248.8 375.6h.65M239.8 381.4h.65M245.5 370.9h.65M254.4 372.5h.65M251.9 362.8h.65M250.9 376.0h.65M249.3 368.4h.65M249.5 373.5h.65M253.6 370.7h.65M241.5 383.3h.65M243.7 374.3h.65M251.1 386.0h.65M250.4 379.6h.65M248.8 375.8h.65M247.8 377.4h.65M244.4 377.2h.65M252.9 375.4h.65M247.5 380.3h.65M244.5 374.3h.65M257.3 379.2h.65M251.2 373.9h.65M245.2 368.0h.65M248.2 384.0h.65M247.9 380.9h.65M247.0 376.1h.65M248.7 369.0h.65M252.0 374.5h.65M250.4 370.0h.65M251.8 370.0h.65M249.8 372.3h.65M245.2 379.7h.65M249.9 361.3h.65M251.0 380.2h.65M248.9 377.5h.65M249.3 377.1h.65M246.8 382.5h.65M253.2 368.8h.65M248.5 369.0h.65M246.3 382.1h.65M248.3 376.7h.65M246.7 391.3h.65M252.9 377.1h.65M249.0 386.9h.65M253.1 376.5h.65M247.5 367.8h.65M253.7 385.8h.65M257.7 375.6h.65M251.8 361.5h.65M250.9 369.8h.65M244.9 370.3h.65M244.7 372.4h.65M250.4 370.2h.65M246.7 374.6h.65M256.4 379.2h.65M245.7 381.0h.65M254.9 373.2h.65M251.1 382.0h.65M242.5 377.3h.65M247.7 380.9h.65M253.5 371.2h.65M242.1 373.0h.65M248.2 370.9h.65M249.2 367.3h.65M250.3 379.9h.65M256.3 373.2h.65M252.3 369.9h.65M245.4 370.5h.65M247.7 366.8h.65M241.0 391.5h.65M247.0 375.5h.65M248.9 372.3h.65M247.3 383.0h.65M249.3 382.5h.65M243.4 379.3h.65M244.5 367.3h.65M251.1 376.4h.65M251.0 379.0h.65M240.3 380.3h.65M255.8 375.2h.65M252.1 384.2h.65M255.3 357.5h.65M246.9 374.4h.65M247.2 382.7h.65M243.2 359.8h.65M249.3 373.4h.65M252.4 381.9h.65M249.7 383.9h.65M242.9 375.7h.65M242.8 388.6h.65M247.1 381.8h.65M250.0 379.9h.65M252.2 382.0h.65M251.3 375.5h.65M251.1 362.1h.65M244.5 385.5h.65M250.4 365.5h.65M243.1 368.1h.65M246.6 381.2h.65M248.1 380.4h.65M243.0 375.4h.65M248.8 377.9h.65M251.1 375.6h.65M251.5 382.8h.65M250.2 367.0h.65M245.5 370.0h.65M254.4 379.5h.65M248.4 371.3h.65M245.8 385.5h.65M247.5 371.4h.65M245.1 380.3h.65M240.7 372.9h.65M250.7 380.3h.65M250.5 372.9h.65M251.5 385.7h.65M244.8 370.3h.65M246.7 376.2h.65M246.1 371.4h.65M239.2 382.6h.65M244.0 376.2h.65M246.1 380.2h.65M243.3 368.7h.65M248.5 375.7h.65M246.2 378.2h.65M246.2 373.2h.65M243.4 375.9h.65M251.8 373.7h.65M247.9 381.7h.65M246.5 371.2h.65M248.5 386.2h.65M246.6 375.1h.65M249.4 372.1h.65M246.7 383.9h.65M241.3 379.6h.65M251.9 382.8h.65M249.1 378.3h.65M245.9 364.3h.65M249.1 376.3h.65M249.9 383.7h.65M258.3 377.0h.65M255.1 375.5h.65M249.6 368.6h.65M249.2 371.2h.65M249.1 366.2h.65M252.6 364.6h.65M250.1 361.4h.65M248.2 377.1h.65M251.5 384.9h.65M243.3 375.2h.65M247.3 375.7h.65M253.1 370.4h.65M244.0 371.9h.65M251.8 369.5h.65M240.9 373.5h.65M252.9 385.0h.65M245.5 371.3h.65M251.2 381.5h.65M248.1 375.7h.65M251.4 364.5h.65M254.0 367.4h.65M240.5 385.2h.65M248.4 380.6h.65M242.0 378.4h.65M249.4 376.5h.65M248.8 374.7h.65M248.0 367.5h.65M256.3 370.5h.65M243.0 378.1h.65M247.1 370.4h.65M261.0 375.8h.65M240.9 373.1h.65M246.6 374.9h.65M250.7 378.0h.65M255.7 371.3h.65M247.0 382.8h.65M253.1 372.8h.65M246.1 383.5h.65M250.9 382.7h.65M252.8 378.2h.65M249.1 376.4h.65M248.4 367.0h.65M250.5 380.8h.65M251.2 370.5h.65M247.5 383.3h.65M252.8 368.6h.65M242.4 377.9h.65M242.3 389.3h.65M247.8 380.2h.65M240.7 377.5h.65M249.1 365.0h.65M255.7 374.2h.65M250.1 373.1h.65M249.2 379.8h.65M249.8 377.9h.65M241.7 376.2h.65M243.1 378.1h.65M245.2 363.8h.65M254.7 372.4h.65M246.8 375.6h.65M247.4 379.8h.65M254.8 371.4h.65M250.8 379.4h.65M243.0 380.8h.65M251.9 373.7h.65M246.8 368.7h.65M252.3 370.0h.65M248.8 366.0h.65M246.9 364.1h.65M244.7 380.7h.65M243.4 368.5h.65M244.9 372.2h.65M243.2 376.7h.65M245.5 379.9h.65M249.6 376.1h.65M249.2 377.6h.65M240.5 389.8h.65M240.7 385.5h.65M244.5 361.0h.65M242.1 362.1h.65M248.8 372.5h.65M258.9 373.8h.65M244.9 384.4h.65M260.0 367.4h.65M244.5 374.9h.65M242.7 370.4h.65M254.5 381.2h.65M252.4 374.8h.65M253.1 362.4h.65M253.6 363.8h.65M244.0 378.1h.65M243.2 377.3h.65M249.0 381.7h.65M247.4 375.6h.65M246.8 374.4h.65M246.8 374.6h.65M250.0 382.1h.65M249.0 354.4h.65M249.0 362.4h.65M243.5 379.4h.65M237.6 371.7h.65M248.6 374.3h.65M245.7 365.4h.65M255.7 363.9h.65M244.7 380.2h.65M248.5 379.8h.65M253.2 366.5h.65M250.0 369.6h.65M248.3 374.0h.65M244.6 376.0h.65M258.7 373.9h.65M241.7 357.2h.65M240.7 384.9h.65M243.0 373.3h.65M245.9 371.8h.65M246.1 373.0h.65M254.8 376.5h.65M257.5 376.4h.65M249.6 390.2h.65M245.8 386.0h.65M244.8 385.0h.65M249.5 379.6h.65M251.6 370.7h.65M257.7 369.5h.65M251.9 382.2h.65M249.1 381.4h.65M247.2 380.1h.65M245.7 373.2h.65M247.1 378.8h.65M247.4 387.4h.65M249.0 376.2h.65M248.2 383.7h.65M246.6 382.1h.65M248.1 365.0h.65M248.7 389.5h.65M244.7 382.8h.65M243.7 385.1h.65M243.9 372.2h.65M249.0 377.6h.65M247.6 388.9h.65M252.0 371.5h.65M250.7 376.9h.65M250.2 373.5h.65M246.8 376.9h.65M244.3 376.1h.65M260.1 371.3h.65M240.2 376.4h.65M246.0 368.8h.65M248.3 373.5h.65M252.1 386.0h.65M241.9 375.2h.65M241.8 368.2h.65M248.2 379.7h.65M246.1 389.2h.65M241.1 376.2h.65M248.7 368.9h.65M247.6 363.2h.65M243.1 375.6h.65M243.7 377.5h.65M249.5 383.9h.65M250.2 370.8h.65M244.7 379.2h.65M245.4 391.0h.65M248.0 372.4h.65M244.3 375.3h.65M246.9 378.0h.65M245.0 371.9h.65M247.3 372.3h.65M243.7 375.2h.65M247.2 373.5h.65M249.4 366.8h.65M248.2 379.5h.65M248.5 374.2h.65M245.1 372.7h.65M242.2 391.4h.65M249.9 378.4h.65M252.2 375.1h.65M249.3 376.1h.65M244.1 360.7h.65M251.0 383.1h.65M250.8 373.9h.65M251.0 381.7h.65M253.4 377.4h.65M252.6 362.2h.65M252.2 380.5h.65M243.6 375.9h.65M250.5 383.6h.65M251.9 383.3h.65M248.4 375.4h.65M250.5 369.9h.65M244.0 380.5h.65M247.4 375.6h.65M253.1 357.0h.65M247.1 380.9h.65M247.1 385.6h.65M242.9 374.7h.65M245.7 372.2h.65M243.1 375.1h.65M244.0 368.9h.65M250.4 374.5h.65M242.6 375.6h.65M250.3 380.6h.65M248.3 384.0h.65M247.2 370.2h.65M245.4 376.9h.65M237.4 388.5h.65M251.2 370.5h.65M246.8 379.3h.65M255.3 363.4h.65M252.6 376.7h.65M245.7 378.7h.65M244.2 364.7h.65M240.2 391.1h.65M245.8 372.4h.65M247.3 372.0h.65M243.5 380.9h.65M249.0 378.2h.65M242.2 385.8h.65M249.6 382.6h.65M246.1 372.8h.65M242.3 386.2h.65M249.6 366.5h.65M247.9 374.8h.65M248.5 381.7h.65M252.5 377.3h.65M243.5 369.3h.65M244.3 370.7h.65M249.8 370.6h.65M247.3 380.4h.65M245.8 389.2h.65M239.3 380.9h.65M244.1 376.6h.65M247.4 374.2h.65M244.3 376.8h.65M243.9 376.8h.65M245.1 367.2h.65M253.3 374.5h.65M244.7 379.3h.65M251.2 386.5h.65M249.6 379.9h.65M243.9 389.6h.65M245.8 376.2h.65M249.0 381.0h.65M248.4 374.7h.65M248.5 386.4h.65M253.0 379.2h.65M250.7 368.3h.65M246.4 367.2h.65M256.4 361.5h.65M242.6 370.1h.65M246.0 363.1h.65M243.1 381.7h.65M241.1 383.5h.65M249.8 369.4h.65M236.3 371.8h.65M247.9 370.4h.65M246.5 375.9h.65M247.3 387.9h.65M250.7 383.6h.65M248.8 357.9h.65M246.9 376.6h.65M242.8 381.0h.65M248.8 361.5h.65M252.3 377.6h.65M247.8 369.9h.65M252.7 356.2h.65M245.5 384.1h.65M254.2 377.3h.65M255.2 370.6h.65M243.8 390.2h.65M253.6 374.6h.65M252.2 377.3h.65M247.9 378.9h.65M253.7 365.5h.65M245.7 374.8h.65M245.2 375.5h.65M242.2 373.2h.65M251.2 373.0h.65M247.9 379.8h.65M255.3 369.7h.65M245.6 381.7h.65M250.6 366.6h.65M244.5 372.2h.65M248.1 375.2h.65M251.9 386.5h.65M253.0 370.3h.65M245.8 369.4h.65M244.7 383.0h.65M250.0 360.1h.65M248.1 383.0h.65M241.7 380.6h.65M256.0 360.5h.65M245.4 367.5h.65M249.3 376.7h.65M254.0 375.6h.65M247.2 374.6h.65M253.0 367.4h.65M247.0 370.6h.65M246.4 383.9h.65M245.6 383.3h.65M245.0 368.1h.65M248.0 384.2h.65M247.4 376.7h.65M244.5 384.0h.65M251.1 369.7h.65M251.4 383.1h.65M253.0 377.0h.65M253.0 381.7h.65M248.6 363.2h.65M244.1 386.2h.65M245.2 375.4h.65M247.4 370.7h.65M255.6 370.1h.65M254.6 375.0h.65M246.9 376.2h.65M242.6 377.8h.65M250.6 375.5h.65M248.5 369.9h.65M251.0 369.6h.65M246.0 370.0h.65M254.4 375.4h.65M246.8 384.1h.65M246.6 367.2h.65M249.1 379.0h.65M252.4 361.5h.65M245.2 384.1h.65M250.5 374.0h.65M240.8 376.1h.65M245.1 368.4h.65M249.2 368.6h.65M248.8 381.2h.65M246.4 382.5h.65M254.1 383.5h.65M244.2 367.4h.65M244.3 366.0h.65M245.1 377.6h.65M248.6 378.6h.65M254.4 372.1h.65M244.4 368.8h.65M243.6 379.6h.65M254.4 377.0h.65M246.6 376.9h.65M252.9 371.5h.65M251.3 375.3h.65M246.1 383.0h.65M252.5 374.6h.65M244.9 367.1h.65M244.6 385.3h.65M249.0 376.8h.65M250.8 375.4h.65M249.8 369.6h.65M253.9 368.1h.65M251.7 357.3h.65M244.5 367.5h.65M250.5 365.4h.65M242.5 380.9h.65M254.6 380.3h.65M257.5 380.2h.65M243.5 361.4h.65M245.5 370.3h.65M243.6 376.0h.65M254.8 381.5h.65M249.6 379.3h.65M245.1 385.3h.65M245.2 379.0h.65M245.1 372.8h.65M251.3 386.1h.65M242.1 379.4h.65M260.0 376.9h.65M250.4 382.9h.65M249.9 380.5h.65M249.1 366.9h.65M250.3 374.6h.65M254.7 363.4h.65M244.0 389.9h.65M247.2 386.2h.65M245.7 383.2h.65M242.5 366.4h.65M247.4 378.0h.65M246.9 386.8h.65M245.7 382.2h.65M245.8 369.8h.65M251.4 370.0h.65M239.7 378.2h.65M252.1 376.9h.65M245.3 366.8h.65M244.0 378.7h.65M255.7 365.9h.65M247.9 382.8h.65M250.2 375.2h.65M245.9 381.1h.65M247.5 371.8h.65M240.5 380.6h.65M250.3 378.3h.65M244.8 383.1h.65M250.9 373.2h.65M242.7 378.9h.65M252.3 360.6h.65M250.2 372.5h.65M247.5 377.3h.65M252.3 376.1h.65M242.9 379.9h.65M250.2 373.7h.65M254.6 371.9h.65M252.4 382.5h.65M249.4 377.0h.65M246.9 372.3h.65M245.9 369.4h.65M246.4 370.4h.65M246.8 373.5h.65M253.0 365.0h.65M244.2 383.6h.65M253.1 379.9h.65M249.0 392.9h.65M249.0 376.3h.65M253.1 367.8h.65M246.9 373.5h.65M241.9 380.4h.65M255.0 379.5h.65M246.4 373.6h.65M243.9 375.1h.65M249.8 366.4h.65M251.8 364.6h.65M245.4 375.8h.65M251.9 374.3h.65M242.7 366.6h.65M248.7 377.3h.65M249.8 364.1h.65M250.1 380.0h.65M244.2 369.8h.65M251.0 368.4h.65M250.9 385.8h.65M245.3 378.6h.65M250.2 379.1h.65M249.9 377.9h.65M246.2 375.3h.65M251.0 384.5h.65M251.2 385.4h.65M251.8 375.5h.65M251.3 381.7h.65M241.2 377.5h.65M240.7 381.9h.65M253.5 377.8h.65M251.8 377.0h.65M250.8 372.1h.65M259.2 380.8h.65M253.9 375.1h.65M251.6 382.4h.65M249.2 372.0h.65M253.7 369.3h.65M250.2 378.1h.65M242.5 384.0h.65M250.0 371.7h.65M252.2 367.6h.65M253.3 376.3h.65M247.1 384.3h.65M248.5 371.8h.65M249.5 376.2h.65M241.5 373.8h.65M247.4 386.5h.65M251.5 368.9h.65M248.8 375.8h.65M253.7 381.6h.65M248.4 374.5h.65M242.1 364.6h.65M245.1 392.7h.65M248.8 370.8h.65M251.3 387.1h.65M247.9 377.0h.65M254.5 375.3h.65M247.1 371.6h.65M251.5 371.2h.65M248.2 380.5h.65M244.1 366.3h.65M249.2 373.0h.65M245.7 371.2h.65M253.5 379.6h.65M249.1 377.7h.65M249.6 374.7h.65M244.0 376.7h.65M253.7 392.5h.65M249.6 376.0h.65M245.8 384.1h.65M242.1 372.2h.65M244.0 372.4h.65M250.2 374.6h.65M244.6 377.1h.65M253.1 373.4h.65M240.8 376.5h.65M254.4 373.5h.65M250.6 375.9h.65M249.1 376.8h.65M258.3 377.4h.65M242.3 382.5h.65M248.0 380.1h.65M250.0 374.7h.65M249.2 373.3h.65M243.7 377.1h.65M242.9 372.4h.65M254.1 384.3h.65M249.1 380.3h.65M251.0 376.4h.65M244.1 372.0h.65M255.7 370.4h.65M246.0 380.4h.65M244.8 375.7h.65M244.3 383.8h.65M249.8 391.7h.65M252.9 367.6h.65M245.6 352.8h.65M243.9 377.0h.65M243.9 366.3h.65M245.4 377.6h.65M254.9 374.0h.65M247.4 372.8h.65M243.3 381.4h.65M250.7 370.6h.65M253.9 380.2h.65M251.6 367.9h.65M247.3 369.4h.65M247.3 378.6h.65M254.1 381.8h.65M250.4 366.7h.65M243.4 373.7h.65M248.7 372.4h.65M248.7 379.1h.65M253.1 373.6h.65M247.2 369.7h.65M250.9 363.6h.65M236.8 391.7h.65M255.3 373.1h.65M242.7 390.4h.65M253.5 372.6h.65M244.4 383.4h.65M247.3 378.6h.65M246.8 382.0h.65M243.0 377.1h.65M253.6 369.9h.65M243.6 378.5h.65M249.8 365.5h.65M244.6 379.2h.65M247.8 365.3h.65M246.9 378.7h.65M248.7 376.7h.65M246.6 362.5h.65M247.3 374.7h.65M246.4 379.6h.65M252.9 380.0h.65M253.1 363.9h.65M249.4 370.2h.65M247.8 369.6h.65M244.1 385.8h.65M254.0 375.5h.65M246.2 382.8h.65M248.6 379.9h.65M252.8 372.8h.65M249.6 384.8h.65M251.8 369.2h.65M241.5 369.8h.65M251.7 369.5h.65M246.0 374.1h.65M254.3 389.1h.65M248.5 383.9h.65M248.6 378.5h.65M247.8 382.7h.65M248.5 390.9h.65M245.6 390.5h.65M243.2 363.5h.65M247.4 375.8h.65M249.2 377.4h.65M249.2 376.8h.65M248.4 383.4h.65M246.8 371.6h.65M242.4 382.3h.65M253.3 381.1h.65M248.8 375.8h.65M249.0 366.6h.65M245.4 372.3h.65M251.3 382.1h.65M250.7 360.7h.65M250.0 381.1h.65M246.7 378.0h.65M242.5 377.4h.65M247.4 379.6h.65M251.2 375.7h.65M235.6 378.9h.65M247.5 370.3h.65M247.9 380.0h.65M248.5 374.7h.65M254.3 367.9h.65M246.6 384.1h.65M253.2 381.5h.65M257.0 385.1h.65M243.1 381.3h.65M257.0 370.5h.65M250.7 366.2h.65M244.6 382.0h.65M248.3 369.2h.65M253.6 370.9h.65M250.3 373.2h.65M243.2 376.4h.65M246.6 384.1h.65M244.2 376.0h.65M247.9 383.7h.65M245.7 379.1h.65M252.6 376.9h.65M247.2 372.2h.65M250.0 372.7h.65M249.2 376.5h.65M249.2 371.0h.65M254.2 378.3h.65M248.4 381.7h.65M245.1 373.3h.65M251.5 369.9h.65M244.0 368.4h.65M241.6 372.9h.65M247.4 379.5h.65M240.6 380.3h.65M243.5 377.3h.65M254.6 366.1h.65M254.5 370.8h.65M246.3 369.2h.65M249.0 388.9h.65M242.0 360.8h.65M249.6 387.7h.65M234.3 384.1h.65M242.1 370.8h.65M248.1 368.7h.65M245.5 362.4h.65M246.0 357.0h.65M255.7 385.8h.65M246.8 358.6h.65M255.7 369.6h.65M248.0 364.0h.65M254.2 369.0h.65M245.2 374.5h.65M243.5 377.7h.65M255.0 372.8h.65M249.4 375.5h.65M251.3 372.0h.65M240.7 388.2h.65M260.1 374.9h.65M243.8 375.7h.65M251.5 377.6h.65M242.0 366.6h.65M245.6 377.9h.65M245.5 368.2h.65M239.5 379.0h.65M231.5 369.4h.65M250.9 355.8h.65M245.1 387.3h.65M241.1 362.6h.65M232.8 388.0h.65M232.2 380.3h.65M235.5 379.6h.65M247.4 380.5h.65M236.9 374.0h.65M233.0 377.4h.65M251.2 366.1h.65M252.5 376.7h.65M253.6 386.6h.65M245.2 387.9h.65M245.3 365.1h.65M251.4 367.4h.65M230.1 383.2h.65M250.3 386.2h.65M251.6 374.5h.65M230.5 380.0h.65M255.0 361.0h.65M252.5 381.7h.65M245.9 378.5h.65M245.6 358.5h.65M237.9 381.1h.65M242.9 382.0h.65M256.6 378.9h.65M245.5 367.5h.65M248.2 384.4h.65M260.8 379.6h.65M246.9 363.5h.65M243.6 378.9h.65M251.7 384.2h.65M240.1 378.1h.65M241.8 374.2h.65M251.0 362.6h.65M251.0 379.4h.65M252.6 379.9h.65M242.0 377.6h.65M257.4 370.3h.65M239.6 384.9h.65M244.6 372.0h.65M237.1 375.7h.65M244.4 383.2h.65M240.6 365.7h.65M250.2 370.1h.65M237.3 390.5h.65M249.0 375.8h.65M251.7 376.0h.65M250.1 380.7h.65M241.2 376.3h.65M237.0 370.4h.65M244.9 379.4h.65M253.9 371.6h.65M249.5 375.8h.65M245.4 365.5h.65M257.2 366.1h.65M256.7 379.2h.65M271.9 360.8h.65M252.3 363.0h.65M257.5 364.2h.65M241.5 379.3h.65M249.5 374.1h.65M244.1 377.3h.65M251.7 380.3h.65M250.0 383.9h.65M239.4 375.2h.65M250.8 352.3h.65M247.8 371.4h.65M242.1 382.9h.65M255.6 365.1h.65M238.8 386.5h.65M249.4 373.1h.65M249.7 373.0h.65M248.7 374.1h.65M250.4 367.7h.65M253.1 363.9h.65M263.8 377.3h.65M255.5 390.3h.65M253.3 365.7h.65M249.1 375.6h.65M247.0 380.2h.65M246.5 368.5h.65M243.7 376.7h.65M250.0 366.9h.65M257.7 373.9h.65M243.4 365.7h.65M246.8 366.6h.65M251.1 358.4h.65M234.9 380.1h.65M244.0 385.8h.65M244.8 372.8h.65M236.1 367.8h.65M275.7 362.7h.65M238.5 382.7h.65M262.2 385.1h.65M256.1 375.8h.65M234.3 382.5h.65M261.1 361.9h.65M261.7 367.4h.65M249.8 374.2h.65M236.2 378.7h.65M254.4 359.5h.65M246.5 364.5h.65M248.0 380.1h.65M246.6 366.7h.65M255.9 377.9h.65M237.2 370.4h.65M241.4 376.8h.65M254.7 370.6h.65M237.2 371.3h.65M250.9 373.7h.65M262.9 376.0h.65M240.7 370.3h.65M245.6 356.7h.65M246.7 372.9h.65M250.8 367.1h.65M250.9 364.7h.65M248.2 371.5h.65M233.3 377.8h.65M241.2 391.0h.65M251.9 382.1h.65M257.9 373.5h.65M245.3 388.1h.65M252.8 377.8h.65M242.7 373.6h.65M243.2 388.1h.65M237.7 372.8h.65M257.7 375.7h.65M236.9 378.4h.65M261.7 373.8h.65M254.8 375.1h.65M241.7 379.2h.65M250.7 377.3h.65M248.1 369.2h.65M234.1 387.5h.65M242.8 391.9h.65M251.2 378.6h.65M244.8 377.1h.65M251.5 382.9h.65M246.2 374.9h.65M246.5 381.4h.65M238.9 382.3h.65M234.0 384.2h.65M252.5 361.4h.65M231.3 383.8h.65M244.7 383.9h.65M252.7 377.9h.65M266.3 368.7h.65M243.9 384.3h.65M246.8 384.4h.65M247.6 367.2h.65M268.9 367.5h.65M246.4 369.6h.65M263.3 379.9h.65M256.1 369.7h.65M246.1 381.3h.65M249.0 369.7h.65M242.3 375.4h.65M251.9 390.1h.65M254.0 365.2h.65M243.2 379.6h.65M249.6 376.0h.65M245.9 377.7h.65M245.4 379.6h.65M241.0 363.8h.65M250.5 372.2h.65M252.7 358.4h.65M254.6 364.2h.65M251.1 357.3h.65M257.6 376.3h.65M256.4 355.4h.65M241.4 368.6h.65M240.3 383.9h.65M240.9 381.7h.65M252.0 361.0h.65M236.3 382.1h.65M257.8 375.7h.65M239.8 376.9h.65M251.7 372.8h.65M246.6 367.6h.65M244.5 356.5h.65M242.3 371.1h.65M245.3 385.3h.65M238.5 386.3h.65M245.6 376.9h.65M262.2 379.4h.65M237.2 383.8h.65M243.3 379.3h.65M240.4 385.9h.65M239.0 374.3h.65M239.1 376.5h.65M248.9 370.1h.65M245.7 377.6h.65M250.8 367.9h.65M246.6 372.4h.65M246.5 370.2h.65M243.1 382.7h.65M234.1 373.1h.65M256.7 365.1h.65M237.4 361.0h.65M241.7 381.4h.65M254.1 376.8h.65M247.3 371.1h.65M236.2 374.9h.65M241.4 378.0h.65M257.4 365.3h.65M251.9 375.1h.65M239.4 376.8h.65M243.3 368.6h.65M246.6 380.6h.65M234.7 386.6h.65M241.7 374.7h.65M242.4 376.5h.65M249.0 384.6h.65M256.5 361.1h.65M260.7 363.4h.65M246.2 376.7h.65M258.3 359.8h.65M250.4 376.9h.65M244.6 390.6h.65M246.2 379.4h.65M250.5 372.1h.65M252.7 353.1h.65M240.9 380.5h.65M252.1 378.2h.65M246.8 367.9h.65M254.2 381.9h.65M247.5 368.2h.65M244.4 366.2h.65M240.8 380.4h.65M238.8 368.1h.65M255.2 365.2h.65M251.2 375.6h.65M248.1 375.4h.65M254.8 380.5h.65M242.4 369.3h.65M248.5 372.9h.65M228.2 379.2h.65M248.8 340.4h.65M235.1 328.5h.65M240.7 338.9h.65M233.4 337.8h.65M251.9 340.4h.65M248.1 341.7h.65M240.1 345.3h.65M237.9 338.8h.65M253.6 353.8h.65M237.7 346.7h.65M242.8 341.5h.65M237.9 331.0h.65M236.4 327.4h.65M242.7 333.2h.65M239.8 362.8h.65M242.4 348.6h.65M250.0 342.4h.65M237.3 342.2h.65M245.3 355.6h.65M248.1 334.7h.65M232.8 344.1h.65M232.0 336.1h.65M245.7 351.2h.65M240.4 355.2h.65M237.7 350.1h.65M249.5 348.9h.65M246.5 341.3h.65M244.5 339.7h.65M225.0 331.3h.65M240.3 343.8h.65M240.3 337.0h.65M245.3 338.2h.65M245.0 335.6h.65M231.3 331.2h.65M237.3 329.2h.65M242.5 345.0h.65M231.6 341.2h.65M235.8 342.4h.65M234.9 336.3h.65M240.1 340.9h.65M238.1 347.7h.65M234.2 336.2h.65M246.2 348.9h.65M238.5 330.9h.65M239.6 338.4h.65M243.0 343.8h.65M235.9 330.3h.65M238.2 339.0h.65M242.9 345.2h.65M238.2 341.9h.65M249.8 342.1h.65M250.4 352.6h.65M234.8 329.3h.65M236.6 339.9h.65M240.6 336.6h.65M238.5 343.0h.65M240.0 343.6h.65M237.7 338.0h.65M249.0 334.2h.65M236.6 339.8h.65M229.1 321.4h.65M235.6 332.6h.65M234.8 331.9h.65M240.3 340.5h.65M243.6 340.4h.65M241.7 337.9h.65M237.5 336.3h.65M233.5 339.6h.65M235.7 343.3h.65M250.1 351.8h.65M240.2 332.4h.65M237.6 332.6h.65M228.5 325.4h.65M238.0 338.7h.65M240.9 344.1h.65M241.0 335.4h.65M233.8 338.2h.65M243.6 347.1h.65M231.1 323.5h.65M228.5 339.8h.65M235.3 340.0h.65M243.3 343.0h.65M240.5 338.6h.65M237.3 331.6h.65M240.9 340.1h.65M247.0 347.1h.65M241.8 343.2h.65M243.2 354.5h.65M246.0 351.7h.65M234.3 328.0h.65M233.9 336.3h.65M235.5 333.9h.65M241.4 341.3h.65M243.7 340.1h.65M243.0 331.5h.65M239.7 340.5h.65M246.9 352.5h.65M234.3 346.8h.65M236.2 327.7h.65M240.2 340.6h.65M252.6 357.7h.65M238.4 329.5h.65M249.5 350.8h.65M237.3 331.9h.65M240.4 340.5h.65M233.3 344.7h.65M226.0 337.6h.65M240.9 354.8h.65M233.8 328.9h.65M252.3 348.3h.65M244.8 357.3h.65M246.3 350.0h.65M244.1 346.7h.65M246.8 339.9h.65M238.4 335.9h.65M247.7 341.2h.65M237.7 331.8h.65M238.9 349.7h.65M233.0 333.6h.65M242.3 336.8h.65M224.7 318.3h.65M242.2 348.0h.65M252.3 352.2h.65M249.3 352.2h.65M240.1 341.4h.65M238.3 329.9h.65M232.7 333.6h.65M240.3 343.1h.65M230.7 331.1h.65M234.8 340.9h.65M237.3 342.1h.65M233.9 331.3h.65M247.2 342.9h.65M236.4 335.1h.65M243.1 349.0h.65M239.9 341.4h.65M238.1 340.2h.65M241.9 331.2h.65M236.3 335.4h.65M238.3 332.1h.65M234.1 341.3h.65M235.7 329.3h.65M242.6 346.9h.65M246.9 341.3h.65M229.7 342.9h.65M242.2 340.8h.65M226.7 329.4h.65M237.9 336.4h.65M242.6 339.4h.65M243.5 339.2h.65M238.2 334.8h.65M236.0 346.0h.65M231.7 338.5h.65M241.4 339.3h.65M235.8 341.1h.65M234.8 336.2h.65M241.0 338.8h.65M229.3 330.8h.65M235.1 332.8h.65M235.3 320.3h.65M234.9 342.2h.65M229.5 329.3h.65M231.4 325.7h.65M242.8 336.1h.65M235.3 337.8h.65M244.1 341.0h.65M244.5 346.2h.65M230.4 346.5h.65M240.5 335.5h.65M246.6 342.6h.65M228.0 339.5h.65M237.0 335.3h.65M241.9 342.6h.65M238.3 352.9h.65M252.7 346.2h.65M228.3 327.5h.65M251.3 337.5h.65M241.4 348.3h.65M241.1 352.7h.65M249.4 349.4h.65M245.9 347.2h.65M246.5 351.4h.65M232.1 335.9h.65M241.2 342.5h.65M242.3 346.5h.65M238.5 345.2h.65M223.3 322.8h.65M232.3 333.0h.65M229.5 335.9h.65M236.2 326.4h.65M231.1 341.8h.65M243.6 344.1h.65M235.4 333.2h.65M248.5 351.0h.65M244.5 340.0h.65M241.0 332.3h.65M229.5 341.3h.65M234.6 345.6h.65M251.5 347.5h.65M240.4 336.1h.65M233.4 346.6h.65M236.6 339.2h.65M232.5 340.7h.65M241.7 346.2h.65M233.6 329.6h.65M239.8 336.9h.65M235.5 336.6h.65M252.4 355.7h.65M249.5 344.9h.65M237.7 339.3h.65M250.9 350.6h.65M233.0 328.7h.65M235.0 329.5h.65M235.6 329.4h.65M239.5 343.4h.65M232.7 337.6h.65M250.4 350.8h.65M242.7 339.0h.65M245.4 349.6h.65M248.3 348.8h.65M232.6 333.7h.65M243.9 345.5h.65M237.8 350.1h.65M240.5 343.1h.65M235.2 327.8h.65M248.4 352.2h.65M244.4 343.0h.65M231.4 339.3h.65M244.0 346.2h.65M235.9 344.6h.65M233.1 322.9h.65M242.1 334.7h.65M244.1 347.6h.65M236.8 339.2h.65M244.4 348.5h.65M237.0 334.4h.65M245.7 344.9h.65M249.9 346.7h.65M248.2 352.2h.65M236.8 338.8h.65M231.2 339.7h.65M229.3 341.0h.65M238.6 334.3h.65M225.9 336.9h.65M236.7 336.0h.65M236.1 340.2h.65M239.1 348.5h.65M236.3 355.5h.65M232.3 332.6h.65M237.2 336.1h.65M236.3 330.6h.65M237.1 337.2h.65M229.5 332.4h.65M236.6 344.3h.65M241.0 339.9h.65M231.6 338.0h.65M243.9 348.4h.65M246.3 343.4h.65M236.4 342.2h.65M235.8 343.8h.65M235.2 343.7h.65M232.3 328.0h.65M240.9 337.2h.65M245.9 346.5h.65M236.0 339.3h.65M232.9 336.0h.65M234.8 333.6h.65M237.9 340.5h.65M243.8 349.4h.65M248.2 360.0h.65M251.0 363.4h.65M241.6 335.2h.65M232.8 337.6h.65M236.7 342.6h.65M235.5 342.2h.65M242.0 333.3h.65M252.8 338.7h.65M237.7 347.0h.65M237.1 341.2h.65M240.0 338.7h.65M236.3 350.7h.65M245.3 343.3h.65M247.1 341.9h.65M244.6 339.0h.65M240.4 330.2h.65M225.1 317.3h.65M240.7 348.4h.65M239.9 341.6h.65M229.6 334.6h.65M246.0 340.5h.65M230.8 327.0h.65M239.7 337.5h.65M251.1 356.2h.65M242.0 347.2h.65M238.3 333.0h.65M237.7 336.6h.65M235.8 339.6h.65M238.0 335.1h.65M247.0 344.9h.65M242.6 338.3h.65M250.8 345.5h.65M247.6 343.0h.65M241.9 336.3h.65M237.1 335.2h.65M240.5 345.5h.65M249.9 342.9h.65M247.3 355.3h.65M233.5 334.4h.65M237.4 341.0h.65M239.9 327.3h.65M252.4 357.4h.65M234.6 338.4h.65M240.2 343.7h.65M240.5 330.1h.65M238.3 337.4h.65M243.8 336.5h.65M242.7 332.4h.65M241.2 349.8h.65M229.2 331.7h.65M235.3 333.0h.65M242.5 341.3h.65M247.8 346.1h.65M241.5 344.8h.65M239.2 336.4h.65M238.6 344.4h.65M245.6 336.5h.65M238.3 344.4h.65M248.8 342.4h.65M239.9 341.7h.65M238.6 336.4h.65M235.3 330.8h.65M245.9 343.7h.65M246.7 335.5h.65M241.3 345.3h.65M226.3 321.4h.65M245.7 340.9h.65M236.3 335.6h.65M239.7 346.9h.65M239.0 337.4h.65M231.7 330.3h.65M238.7 346.3h.65M253.7 356.1h.65M250.7 343.8h.65M240.2 346.8h.65M231.3 337.6h.65M240.9 338.3h.65M236.4 332.3h.65M241.7 351.0h.65M242.5 343.3h.65M242.8 349.3h.65M245.4 343.1h.65M238.2 343.7h.65M243.6 342.6h.65M233.6 332.4h.65M230.4 336.1h.65M239.9 336.2h.65M228.0 339.1h.65M249.2 341.9h.65M234.4 334.9h.65M243.8 350.0h.65M237.9 324.3h.65M241.4 350.1h.65M242.1 347.4h.65M236.4 347.8h.65M246.3 357.3h.65M233.8 338.9h.65M232.1 336.2h.65M238.4 343.1h.65M228.5 329.3h.65M247.1 350.0h.65M242.2 336.8h.65M234.1 341.7h.65M237.9 345.6h.65M243.7 345.0h.65M235.6 349.0h.65M240.3 351.7h.65M236.9 341.1h.65M238.3 344.2h.65M244.2 339.1h.65M241.4 346.0h.65M241.4 338.9h.65M243.2 338.7h.65M239.3 340.3h.65M236.3 336.0h.65M242.7 341.8h.65M238.2 333.3h.65M234.2 327.5h.65M237.8 339.7h.65M242.1 328.6h.65M244.1 340.6h.65M244.7 342.2h.65M233.8 347.1h.65M224.3 327.8h.65M231.2 336.5h.65M233.8 334.3h.65M238.2 343.1h.65M224.5 339.1h.65M242.4 337.5h.65M241.4 342.4h.65M239.3 338.7h.65M231.8 347.3h.65M239.2 355.5h.65M237.7 335.4h.65M241.7 354.2h.65M242.7 339.8h.65M242.3 361.0h.65M234.3 341.6h.65M241.8 343.9h.65M245.4 349.2h.65M241.2 339.7h.65M245.7 342.0h.65M228.4 339.1h.65M245.9 335.8h.65M226.0 327.3h.65M237.2 337.2h.65M236.6 342.8h.65M233.8 330.1h.65M232.3 337.5h.65M233.3 338.3h.65M235.3 339.6h.65M246.5 340.6h.65M240.8 340.4h.65M232.8 338.2h.65M229.8 323.1h.65M234.9 332.6h.65M245.0 348.3h.65M236.0 335.8h.65M239.7 342.6h.65M237.9 345.5h.65M238.3 345.3h.65M241.1 333.3h.65M231.3 342.9h.65M236.4 329.1h.65M245.9 338.3h.65M247.6 344.7h.65M242.0 340.2h.65M229.1 321.3h.65M230.5 349.5h.65M239.6 330.3h.65M247.0 341.0h.65M221.7 337.1h.65M245.1 342.2h.65M247.1 347.9h.65M236.9 332.3h.65M241.6 342.5h.65M238.4 333.9h.65M230.9 342.0h.65M227.7 341.4h.65M237.3 341.8h.65M227.2 339.7h.65M241.8 342.3h.65M243.1 347.2h.65M235.6 349.1h.65M225.7 327.7h.65M230.6 339.0h.65M237.5 329.8h.65M233.6 337.1h.65M244.7 353.8h.65M242.0 339.8h.65M239.5 328.2h.65M236.1 331.6h.65M244.1 341.9h.65M234.5 340.9h.65M236.4 342.9h.65M246.5 351.0h.65M234.7 327.1h.65M231.6 327.2h.65M242.5 339.3h.65M239.0 349.3h.65M234.5 344.9h.65M239.3 334.8h.65M234.8 330.7h.65M239.2 336.8h.65M239.6 345.0h.65M247.3 350.2h.65M230.2 340.4h.65M241.4 340.8h.65M232.9 335.6h.65M233.3 333.4h.65M237.9 349.8h.65M259.2 361.2h.65M245.2 340.3h.65M244.0 334.8h.65M239.0 343.9h.65M233.7 328.1h.65M243.0 335.4h.65M229.7 328.4h.65M236.1 330.8h.65M233.2 339.1h.65M233.3 334.4h.65M243.5 340.9h.65M237.8 341.4h.65M243.3 344.2h.65M237.8 325.6h.65M232.9 325.7h.65M239.6 342.8h.65M242.9 342.1h.65M233.6 343.5h.65M239.4 341.7h.65M239.0 321.8h.65M243.0 341.0h.65M239.2 344.2h.65M231.1 322.6h.65M235.5 332.9h.65M246.0 335.5h.65M237.0 338.8h.65M240.6 335.6h.65M243.9 346.2h.65M237.0 337.5h.65M248.1 351.4h.65M236.8 344.3h.65M236.8 324.4h.65M239.2 340.1h.65M245.4 340.3h.65M236.3 336.5h.65M241.4 336.9h.65M240.3 347.7h.65M243.7 342.5h.65M230.4 332.1h.65M241.8 341.0h.65M228.8 325.3h.65M245.9 347.6h.65M238.7 347.0h.65M242.5 337.5h.65M248.2 341.7h.65M241.8 352.5h.65M234.9 340.7h.65M219.8 333.3h.65M241.0 333.4h.65M244.3 346.4h.65M244.7 344.8h.65M237.2 335.3h.65M237.3 338.6h.65M236.7 335.3h.65M240.3 350.1h.65M233.7 340.3h.65M237.7 338.6h.65M244.6 347.0h.65M235.9 338.5h.65M233.0 331.8h.65M238.8 342.5h.65M246.3 337.0h.65M240.2 345.8h.65M242.0 340.0h.65M238.1 335.3h.65M230.9 326.9h.65M240.3 331.0h.65M231.2 334.7h.65M228.2 330.2h.65M230.5 328.5h.65M234.5 356.6h.65M234.5 339.0h.65M233.8 343.0h.65M244.2 349.6h.65M241.7 337.2h.65M247.0 355.7h.65M237.8 335.9h.65M248.6 356.3h.65M235.8 340.9h.65M234.8 337.1h.65M241.4 341.3h.65M229.2 343.6h.65M242.7 351.2h.65M241.9 338.9h.65M228.2 330.7h.65M238.6 345.5h.65M233.7 332.6h.65M231.4 320.9h.65M230.1 322.9h.65M237.5 341.7h.65M240.1 336.9h.65M247.1 336.7h.65M248.0 346.1h.65M227.2 334.9h.65M229.3 337.6h.65M242.6 351.3h.65M238.7 336.8h.65M233.9 339.3h.65M244.5 344.5h.65M253.7 348.5h.65M238.4 344.6h.65M231.0 331.6h.65M232.2 333.5h.65M238.2 324.3h.65M236.5 326.7h.65M235.7 331.9h.65M249.7 338.1h.65M244.6 338.8h.65M233.6 331.8h.65M243.5 348.7h.65M241.0 337.8h.65M235.9 338.9h.65M243.7 336.6h.65M238.0 347.5h.65M243.9 345.7h.65M236.1 340.6h.65M237.6 340.3h.65M242.7 351.2h.65M236.3 334.2h.65M237.4 334.0h.65M235.1 337.1h.65M240.5 350.6h.65M238.5 337.9h.65M240.5 337.1h.65M242.3 344.3h.65M236.3 332.1h.65M237.9 341.1h.65M237.7 326.4h.65M226.5 316.5h.65M246.9 349.3h.65M243.9 350.9h.65M246.1 338.3h.65M231.1 339.5h.65M246.8 349.2h.65M239.1 345.8h.65M236.9 321.3h.65M242.7 346.9h.65M238.6 340.2h.65M238.1 337.1h.65M240.5 333.4h.65M235.0 335.6h.65M230.5 334.0h.65M242.6 341.1h.65M241.0 346.7h.65M245.8 344.5h.65M234.2 332.9h.65M227.4 333.9h.65M235.5 342.4h.65M233.2 338.9h.65M238.1 346.4h.65M238.3 339.3h.65M238.3 339.0h.65M233.7 336.9h.65M236.9 347.3h.65M231.0 332.9h.65M242.8 344.7h.65M238.5 347.7h.65M231.9 334.1h.65M244.6 342.2h.65M238.0 358.1h.65M248.7 356.0h.65M229.6 328.3h.65M234.9 344.5h.65M234.3 345.0h.65M235.3 334.0h.65M240.5 338.0h.65M236.6 336.1h.65M240.1 349.4h.65M243.8 352.2h.65M247.5 336.7h.65M242.9 349.6h.65M245.6 341.9h.65M232.6 338.3h.65M235.7 340.2h.65M238.0 351.4h.65M243.1 338.9h.65M237.4 338.7h.65M241.6 349.1h.65M241.0 334.2h.65M239.0 339.9h.65M248.0 354.8h.65M244.3 358.9h.65M245.4 357.9h.65M245.2 355.6h.65M243.5 360.6h.65M248.0 348.9h.65M244.3 354.2h.65M251.0 360.4h.65M247.7 347.5h.65M244.5 358.3h.65M248.1 355.6h.65M248.0 359.7h.65M246.4 363.3h.65M247.4 356.6h.65M246.8 356.6h.65M250.7 355.3h.65M246.3 360.7h.65M243.0 352.4h.65M247.7 354.6h.65M243.5 360.0h.65M246.0 356.8h.65M245.9 355.2h.65M244.4 355.9h.65M245.7 357.6h.65M247.2 357.6h.65M249.3 356.5h.65M245.9 353.3h.65M248.4 349.9h.65M249.6 364.6h.65M247.1 361.2h.65M250.2 354.6h.65M247.4 361.6h.65M248.4 360.5h.65M245.1 362.2h.65M249.1 355.7h.65M248.0 346.5h.65M247.1 358.7h.65M245.8 360.1h.65M250.6 354.5h.65M250.9 359.3h.65M242.1 357.0h.65M246.7 352.7h.65M247.0 360.4h.65M243.0 357.8h.65M244.8 351.9h.65M245.4 357.6h.65M245.0 359.7h.65M246.9 362.4h.65M244.5 352.3h.65M247.2 357.9h.65M247.9 353.8h.65M249.6 357.4h.65M246.4 355.5h.65M248.6 362.3h.65M247.5 363.4h.65M246.8 358.1h.65M246.3 360.8h.65M245.8 358.2h.65M250.1 361.1h.65M247.8 364.1h.65M241.8 356.8h.65M246.9 351.9h.65M247.4 361.1h.65M245.7 355.8h.65M247.7 357.9h.65M244.8 355.6h.65M249.3 360.8h.65M247.5 351.9h.65M244.1 352.2h.65M246.5 350.0h.65M247.6 359.5h.65M248.6 361.0h.65M243.1 356.1h.65M245.3 361.9h.65M248.3 355.6h.65M246.1 357.9h.65M247.5 357.9h.65M246.5 356.0h.65M248.1 359.5h.65M245.4 353.4h.65M247.2 359.5h.65M246.5 363.4h.65M245.3 354.3h.65M244.3 352.2h.65M245.2 351.9h.65M249.2 365.0h.65M242.7 356.3h.65M244.3 356.8h.65M249.6 362.8h.65M244.5 355.2h.65M247.7 360.9h.65M246.0 354.9h.65M250.4 358.5h.65M250.8 355.2h.65M249.5 359.3h.65M247.8 358.3h.65M247.5 352.7h.65M244.2 354.7h.65M245.6 357.7h.65M248.8 363.7h.65M246.3 354.5h.65M246.1 353.3h.65M246.7 352.9h.65M246.0 367.6h.65M244.0 353.9h.65M247.4 356.4h.65M247.0 350.9h.65M242.1 357.4h.65M251.3 355.1h.65M244.6 354.3h.65" stroke="#111" stroke-width="0.65" fill="none"/>
<rect x="225.75" y="320.75" width="41.75" height="33.5" fill="none" stroke="#111" stroke-width="1.1"/>
<rect x="225.75" y="360" width="41.75" height="33.25" fill="none" stroke="#111" stroke-width="1.1"/>
<text x="202.9" y="342.6" font-size="14.3" font-weight="bold">B2</text>
<text x="202.9" y="383.1" font-size="14.3" font-weight="bold">B1</text>
<line x1="167" y1="308.75" x2="167" y2="395.5" stroke="#000" stroke-width="1.4"/>
<line x1="177.5" y1="410" x2="298" y2="410" stroke="#000" stroke-width="1.4"/>
<text x="0" y="0" text-anchor="middle" transform="translate(163.7 352) rotate(-90)">CD23</text>
<text x="246" y="426.8" text-anchor="middle">CD19</text>
<text x="248.75" y="304.3" text-anchor="middle">1826 9 Day</text>
</g>
<g id="panelD">
<text x="2.4" y="455" font-size="17.6" font-weight="bold">D</text>
<rect x="91.25" y="589.6" width="13" height="1.4" fill="#000"/>
<rect x="133" y="590" width="12.75" height="1" fill="#000"/>
<rect x="174.5" y="589.8" width="13" height="1.2" fill="#000"/>
<rect x="216.5" y="590" width="13" height="1" fill="#000"/>
<rect x="104.85" y="495.1" width="11.3" height="95.9" fill="#fff" stroke="#000" stroke-width="1.3"/>
<line x1="110.5" y1="491.25" x2="110.5" y2="494.5" stroke="#000" stroke-width="1.1"/>
<line x1="107.25" y1="491.25" x2="113.75" y2="491.25" stroke="#000" stroke-width="1.1"/>
<rect x="146.35" y="521.85" width="11.8" height="69.15" fill="#fff" stroke="#000" stroke-width="1.3"/>
<line x1="152.25" y1="520.6" x2="152.25" y2="521.25" stroke="#000" stroke-width="1.1"/>
<line x1="149" y1="520.6" x2="155.5" y2="520.6" stroke="#000" stroke-width="1.1"/>
<rect x="188.1" y="516.1" width="11.8" height="74.9" fill="#fff" stroke="#000" stroke-width="1.3"/>
<line x1="194" y1="513" x2="194" y2="515.5" stroke="#000" stroke-width="1.1"/>
<line x1="190.75" y1="513" x2="197.25" y2="513" stroke="#000" stroke-width="1.1"/>
<rect x="230.1" y="528.6" width="11.8" height="62.4" fill="#fff" stroke="#000" stroke-width="1.3"/>
<line x1="236" y1="523" x2="236" y2="528" stroke="#000" stroke-width="1.1"/>
<line x1="232.75" y1="523" x2="239.25" y2="523" stroke="#000" stroke-width="1.1"/>
<line x1="83.25" y1="461.15" x2="83.25" y2="591.6" stroke="#000" stroke-width="1.4"/>
<line x1="82.65" y1="591" x2="251.6" y2="591" stroke="#000" stroke-width="1.4"/>
<line x1="79.25" y1="461.75" x2="83.25" y2="461.75" stroke="#000" stroke-width="1.4"/>
<text x="65.8" y="466.55" text-anchor="end">2,000</text>
<line x1="79.25" y1="494.05" x2="83.25" y2="494.05" stroke="#000" stroke-width="1.4"/>
<text x="65.8" y="498.85" text-anchor="end">1,500</text>
<line x1="79.25" y1="526.35" x2="83.25" y2="526.35" stroke="#000" stroke-width="1.4"/>
<text x="65.8" y="531.15" text-anchor="end">1,000</text>
<line x1="79.25" y1="558.65" x2="83.25" y2="558.65" stroke="#000" stroke-width="1.4"/>
<text x="65.8" y="563.45" text-anchor="end">500</text>
<line x1="79.25" y1="590.95" x2="83.25" y2="590.95" stroke="#000" stroke-width="1.4"/>
<text x="65.8" y="595.75" text-anchor="end">0</text>
<line x1="83.25" y1="591" x2="83.25" y2="594.8" stroke="#000" stroke-width="1.4"/>
<line x1="125.18" y1="591" x2="125.18" y2="594.8" stroke="#000" stroke-width="1.4"/>
<line x1="167.11" y1="591" x2="167.11" y2="594.8" stroke="#000" stroke-width="1.4"/>
<line x1="209.04" y1="591" x2="209.04" y2="594.8" stroke="#000" stroke-width="1.4"/>
<line x1="250.97" y1="591" x2="250.97" y2="594.8" stroke="#000" stroke-width="1.4"/>
<text x="0" y="0" letter-spacing="0.3" text-anchor="middle" transform="translate(25 521.5) rotate(-90)">Total IgG (ng/ml)</text>
<rect x="198" y="464.8" width="12.7" height="11.5" fill="#000"/>
<text x="216.6" y="476.3">PBS</text>
<rect x="198.7" y="481.9" width="11.3" height="10.3" fill="#fff" stroke="#000" stroke-width="1.4"/>
<text x="214.8" y="492.6">1826</text>
<text x="26" y="614.8" letter-spacing="0.2">Sorting :</text>
<text x="0" y="0" text-anchor="middle" transform="translate(109.3 608.6) rotate(-90)">B1</text>
<text x="0" y="0" text-anchor="middle" transform="translate(153 608.6) rotate(-90)">B2</text>
<text x="0" y="0" text-anchor="middle" transform="translate(198.6 608.6) rotate(-90)">B1</text>
<text x="0" y="0" text-anchor="middle" transform="translate(240.5 608.6) rotate(-90)">B2</text>
<line x1="83.75" y1="623" x2="165.5" y2="623" stroke="#000" stroke-width="1.4"/>
<line x1="173" y1="623" x2="254.5" y2="623" stroke="#000" stroke-width="1.4"/>
<text x="3.6" y="639.8" letter-spacing="0.1">IP injection :</text>
<text x="123.75" y="639.8" text-anchor="middle">PBS</text>
<text x="212.75" y="639.8" text-anchor="middle">1826</text>
</g>
<g id="panelE">
<text x="330" y="293.2" font-size="17.6" font-weight="bold">E</text>
<rect x="412.5" y="485.1" width="4.62" height="2.15" fill="#fff" stroke="#000" stroke-width="1.25"/>
<rect x="417.72" y="483.75" width="5.82" height="3.5" fill="#000"/>
<line x1="420.63" y1="480.5" x2="420.63" y2="483.75" stroke="#000" stroke-width="1"/>
<line x1="418.03" y1="480.5" x2="423.23" y2="480.5" stroke="#000" stroke-width="1"/>
<rect x="424.14" y="483.6" width="4.62" height="3.65" fill="#fff" stroke="#000" stroke-width="1.25"/>
<line x1="425.04" y1="484.2" x2="427.86" y2="486.45" stroke="#000" stroke-width="1.1"/>
<rect x="429.96" y="485.1" width="4.62" height="2.15" fill="#8e8e8e" stroke="#111" stroke-width="1.25"/>
<rect x="443" y="485.8" width="4.62" height="1.45" fill="#fff" stroke="#000" stroke-width="1.25"/>
<rect x="448.22" y="483.5" width="5.82" height="3.75" fill="#000"/>
<rect x="454.64" y="484" width="4.62" height="3.25" fill="#fff" stroke="#000" stroke-width="1.25"/>
<line x1="455.54" y1="484.6" x2="458.36" y2="486.45" stroke="#000" stroke-width="1.1"/>
<line x1="456.95" y1="482.8" x2="456.95" y2="483.4" stroke="#000" stroke-width="1"/>
<line x1="454.35" y1="482.8" x2="459.55" y2="482.8" stroke="#000" stroke-width="1"/>
<rect x="460.46" y="485.9" width="4.62" height="1.35" fill="#8e8e8e" stroke="#111" stroke-width="1.25"/>
<rect x="474.75" y="399.85" width="4.62" height="87.4" fill="#fff" stroke="#000" stroke-width="1.3"/>
<line x1="477.06" y1="393" x2="477.06" y2="399.25" stroke="#000" stroke-width="1"/>
<line x1="474.46" y1="393" x2="479.66" y2="393" stroke="#000" stroke-width="1"/>
<rect x="479.97" y="385" width="5.82" height="102.25" fill="#000"/>
<line x1="482.88" y1="376.25" x2="482.88" y2="385" stroke="#000" stroke-width="1"/>
<line x1="480.28" y1="376.25" x2="485.48" y2="376.25" stroke="#000" stroke-width="1"/>
<clipPath id="hc3"><rect x="486.34" y="388.55" width="4.72" height="98.7"/></clipPath>
<rect x="486.34" y="388.55" width="4.72" height="98.7" fill="#fff"/>
<path d="M485.34 381.91L492.06 387.55M485.34 387.81L492.06 393.45M485.34 393.71L492.06 399.35M485.34 399.61L492.06 405.25M485.34 405.51L492.06 411.15M485.34 411.41L492.06 417.05M485.34 417.31L492.06 422.95M485.34 423.21L492.06 428.85M485.34 429.11L492.06 434.75M485.34 435.01L492.06 440.65M485.34 440.91L492.06 446.55M485.34 446.81L492.06 452.45M485.34 452.71L492.06 458.35M485.34 458.61L492.06 464.25M485.34 464.51L492.06 470.15M485.34 470.41L492.06 476.05M485.34 476.31L492.06 481.95M485.34 482.21L492.06 487.85M485.34 488.11L492.06 493.75" stroke="#000" stroke-width="1.3" fill="none" clip-path="url(#hc3)"/>
<rect x="486.34" y="388.55" width="4.72" height="98.7" fill="none" stroke="#000" stroke-width="1.15"/>
<line x1="488.7" y1="382.5" x2="488.7" y2="388" stroke="#000" stroke-width="1"/>
<line x1="486.1" y1="382.5" x2="491.3" y2="382.5" stroke="#000" stroke-width="1"/>
<rect x="492.16" y="416.05" width="4.72" height="71.2" fill="#8e8e8e" stroke="#181818" stroke-width="1.15"/>
<line x1="494.52" y1="410.5" x2="494.52" y2="415.5" stroke="#000" stroke-width="1"/>
<line x1="491.92" y1="410.5" x2="497.12" y2="410.5" stroke="#000" stroke-width="1"/>
<rect x="506" y="425.1" width="4.62" height="62.15" fill="#fff" stroke="#000" stroke-width="1.3"/>
<line x1="508.31" y1="419.25" x2="508.31" y2="424.5" stroke="#000" stroke-width="1"/>
<line x1="505.71" y1="419.25" x2="510.91" y2="419.25" stroke="#000" stroke-width="1"/>
<rect x="511.22" y="405" width="5.82" height="82.25" fill="#000"/>
<line x1="514.13" y1="399.5" x2="514.13" y2="405" stroke="#000" stroke-width="1"/>
<line x1="511.53" y1="399.5" x2="516.73" y2="399.5" stroke="#000" stroke-width="1"/>
<clipPath id="hc4"><rect x="517.59" y="406.05" width="4.72" height="81.2"/></clipPath>
<rect x="517.59" y="406.05" width="4.72" height="81.2" fill="#fff"/>
<path d="M516.59 399.41L523.31 405.05M516.59 405.31L523.31 410.95M516.59 411.21L523.31 416.85M516.59 417.11L523.31 422.75M516.59 423.01L523.31 428.65M516.59 428.91L523.31 434.55M516.59 434.81L523.31 440.45M516.59 440.71L523.31 446.35M516.59 446.61L523.31 452.25M516.59 452.51L523.31 458.15M516.59 458.41L523.31 464.05M516.59 464.31L523.31 469.95M516.59 470.21L523.31 475.85M516.59 476.11L523.31 481.75M516.59 482.01L523.31 487.65M516.59 487.91L523.31 493.55" stroke="#000" stroke-width="1.3" fill="none" clip-path="url(#hc4)"/>
<rect x="517.59" y="406.05" width="4.72" height="81.2" fill="none" stroke="#000" stroke-width="1.15"/>
<line x1="519.95" y1="403.25" x2="519.95" y2="405.5" stroke="#000" stroke-width="1"/>
<line x1="517.35" y1="403.25" x2="522.55" y2="403.25" stroke="#000" stroke-width="1"/>
<rect x="523.41" y="438.8" width="4.72" height="48.45" fill="#8e8e8e" stroke="#181818" stroke-width="1.15"/>
<line x1="525.77" y1="436.25" x2="525.77" y2="438.25" stroke="#000" stroke-width="1"/>
<line x1="523.17" y1="436.25" x2="528.37" y2="436.25" stroke="#000" stroke-width="1"/>
<rect x="536.75" y="486.6" width="4.62" height="0.65" fill="#fff" stroke="#000" stroke-width="1.25"/>
<rect x="541.97" y="481.75" width="5.82" height="5.5" fill="#000"/>
<rect x="548.39" y="482.35" width="4.62" height="4.9" fill="#fff" stroke="#000" stroke-width="1.25"/>
<line x1="549.29" y1="482.95" x2="552.11" y2="486.45" stroke="#000" stroke-width="1.1"/>
<line x1="550.7" y1="481" x2="550.7" y2="481.75" stroke="#000" stroke-width="1"/>
<line x1="548.1" y1="481" x2="553.3" y2="481" stroke="#000" stroke-width="1"/>
<rect x="554.21" y="483.6" width="4.62" height="3.65" fill="#8e8e8e" stroke="#111" stroke-width="1.25"/>
<rect x="568" y="485.1" width="4.62" height="2.15" fill="#fff" stroke="#000" stroke-width="1.25"/>
<rect x="573.22" y="483" width="5.82" height="4.25" fill="#000"/>
<rect x="579.64" y="483.1" width="4.62" height="4.15" fill="#fff" stroke="#000" stroke-width="1.25"/>
<line x1="580.54" y1="483.7" x2="583.36" y2="486.45" stroke="#000" stroke-width="1.1"/>
<line x1="581.95" y1="480" x2="581.95" y2="482.5" stroke="#000" stroke-width="1"/>
<line x1="579.35" y1="480" x2="584.55" y2="480" stroke="#000" stroke-width="1"/>
<rect x="585.46" y="483.85" width="4.62" height="3.4" fill="#8e8e8e" stroke="#111" stroke-width="1.25"/>
<rect x="599.75" y="410.6" width="4.62" height="76.65" fill="#fff" stroke="#000" stroke-width="1.3"/>
<line x1="602.06" y1="398" x2="602.06" y2="410" stroke="#000" stroke-width="1"/>
<line x1="599.46" y1="398" x2="604.66" y2="398" stroke="#000" stroke-width="1"/>
<rect x="604.97" y="388.75" width="5.82" height="98.5" fill="#000"/>
<line x1="607.88" y1="384.5" x2="607.88" y2="388.75" stroke="#000" stroke-width="1"/>
<line x1="605.28" y1="384.5" x2="610.48" y2="384.5" stroke="#000" stroke-width="1"/>
<clipPath id="hc5"><rect x="611.34" y="401.3" width="4.72" height="85.95"/></clipPath>
<rect x="611.34" y="401.3" width="4.72" height="85.95" fill="#fff"/>
<path d="M610.34 394.66L617.06 400.3M610.34 400.56L617.06 406.2M610.34 406.46L617.06 412.1M610.34 412.36L617.06 418M610.34 418.26L617.06 423.9M610.34 424.16L617.06 429.8M610.34 430.06L617.06 435.7M610.34 435.96L617.06 441.6M610.34 441.86L617.06 447.5M610.34 447.76L617.06 453.4M610.34 453.66L617.06 459.3M610.34 459.56L617.06 465.2M610.34 465.46L617.06 471.1M610.34 471.36L617.06 477M610.34 477.26L617.06 482.9M610.34 483.16L617.06 488.8" stroke="#000" stroke-width="1.3" fill="none" clip-path="url(#hc5)"/>
<rect x="611.34" y="401.3" width="4.72" height="85.95" fill="none" stroke="#000" stroke-width="1.15"/>
<line x1="613.7" y1="393" x2="613.7" y2="400.75" stroke="#000" stroke-width="1"/>
<line x1="611.1" y1="393" x2="616.3" y2="393" stroke="#000" stroke-width="1"/>
<rect x="617.16" y="429.8" width="4.72" height="57.45" fill="#8e8e8e" stroke="#181818" stroke-width="1.15"/>
<line x1="619.52" y1="425.5" x2="619.52" y2="429.25" stroke="#000" stroke-width="1"/>
<line x1="616.92" y1="425.5" x2="622.12" y2="425.5" stroke="#000" stroke-width="1"/>
<rect x="630.5" y="458.1" width="4.62" height="29.15" fill="#fff" stroke="#000" stroke-width="1.3"/>
<line x1="632.81" y1="455.75" x2="632.81" y2="457.5" stroke="#000" stroke-width="1"/>
<line x1="630.21" y1="455.75" x2="635.41" y2="455.75" stroke="#000" stroke-width="1"/>
<rect x="635.72" y="420" width="5.82" height="67.25" fill="#000"/>
<line x1="638.63" y1="417.5" x2="638.63" y2="420" stroke="#000" stroke-width="1"/>
<line x1="636.03" y1="417.5" x2="641.23" y2="417.5" stroke="#000" stroke-width="1"/>
<clipPath id="hc6"><rect x="642.09" y="413.8" width="4.72" height="73.45"/></clipPath>
<rect x="642.09" y="413.8" width="4.72" height="73.45" fill="#fff"/>
<path d="M641.09 407.16L647.81 412.8M641.09 413.06L647.81 418.7M641.09 418.96L647.81 424.6M641.09 424.86L647.81 430.5M641.09 430.76L647.81 436.4M641.09 436.66L647.81 442.3M641.09 442.56L647.81 448.2M641.09 448.46L647.81 454.1M641.09 454.36L647.81 460M641.09 460.26L647.81 465.9M641.09 466.16L647.81 471.8M641.09 472.06L647.81 477.7M641.09 477.96L647.81 483.6M641.09 483.86L647.81 489.5" stroke="#000" stroke-width="1.3" fill="none" clip-path="url(#hc6)"/>
<rect x="642.09" y="413.8" width="4.72" height="73.45" fill="none" stroke="#000" stroke-width="1.15"/>
<line x1="644.45" y1="410.75" x2="644.45" y2="413.25" stroke="#000" stroke-width="1"/>
<line x1="641.85" y1="410.75" x2="647.05" y2="410.75" stroke="#000" stroke-width="1"/>
<rect x="647.91" y="461.3" width="4.72" height="25.95" fill="#8e8e8e" stroke="#181818" stroke-width="1.15"/>
<line x1="650.27" y1="458.75" x2="650.27" y2="460.75" stroke="#000" stroke-width="1"/>
<line x1="647.67" y1="458.75" x2="652.87" y2="458.75" stroke="#000" stroke-width="1"/>
<line x1="407.75" y1="356.9" x2="407.75" y2="487.85" stroke="#000" stroke-width="1.4"/>
<line x1="407.15" y1="487.25" x2="658.3" y2="487.25" stroke="#000" stroke-width="1.4"/>
<line x1="403.25" y1="357.5" x2="407.75" y2="357.5" stroke="#000" stroke-width="1.4"/>
<text x="390.5" y="362.4" text-anchor="end">1,000</text>
<line x1="403.25" y1="383.45" x2="407.75" y2="383.45" stroke="#000" stroke-width="1.4"/>
<text x="390.5" y="388.35" text-anchor="end">800</text>
<line x1="403.25" y1="409.4" x2="407.75" y2="409.4" stroke="#000" stroke-width="1.4"/>
<text x="390.5" y="414.3" text-anchor="end">600</text>
<line x1="403.25" y1="435.35" x2="407.75" y2="435.35" stroke="#000" stroke-width="1.4"/>
<text x="390.5" y="440.25" text-anchor="end">400</text>
<line x1="403.25" y1="461.3" x2="407.75" y2="461.3" stroke="#000" stroke-width="1.4"/>
<text x="390.5" y="466.2" text-anchor="end">200</text>
<line x1="403.25" y1="487.25" x2="407.75" y2="487.25" stroke="#000" stroke-width="1.4"/>
<text x="390.5" y="492.15" text-anchor="end">0</text>
<line x1="407.75" y1="487.25" x2="407.75" y2="491.25" stroke="#000" stroke-width="1.4"/>
<line x1="438.94" y1="487.25" x2="438.94" y2="491.25" stroke="#000" stroke-width="1.4"/>
<line x1="470.13" y1="487.25" x2="470.13" y2="491.25" stroke="#000" stroke-width="1.4"/>
<line x1="501.32" y1="487.25" x2="501.32" y2="491.25" stroke="#000" stroke-width="1.4"/>
<line x1="532.51" y1="487.25" x2="532.51" y2="491.25" stroke="#000" stroke-width="1.4"/>
<line x1="563.7" y1="487.25" x2="563.7" y2="491.25" stroke="#000" stroke-width="1.4"/>
<line x1="594.89" y1="487.25" x2="594.89" y2="491.25" stroke="#000" stroke-width="1.4"/>
<line x1="626.08" y1="487.25" x2="626.08" y2="491.25" stroke="#000" stroke-width="1.4"/>
<line x1="657.27" y1="487.25" x2="657.27" y2="491.25" stroke="#000" stroke-width="1.4"/>
<text x="0" y="0" letter-spacing="0.22" text-anchor="middle" transform="translate(349.6 417) rotate(-90)">IgG (ng/ml)</text>
<polyline points="423.25,353 423.25,348.25 485.75,348.25 485.75,353" fill="none" stroke="#000" stroke-width="1.4" stroke-linejoin="miter"/>
<line x1="411.75" y1="353" x2="435" y2="353" stroke="#000" stroke-width="1.4"/>
<line x1="474.5" y1="353" x2="497.5" y2="353" stroke="#000" stroke-width="1.4"/>
<text x="455.7" y="350.8" letter-spacing="1.15" text-anchor="middle" font-size="14">***</text>
<polyline points="454.5,373 454.5,368.25 516.75,368.25 516.75,373" fill="none" stroke="#000" stroke-width="1.4" stroke-linejoin="miter"/>
<line x1="442.5" y1="373" x2="465.75" y2="373" stroke="#000" stroke-width="1.4"/>
<line x1="505.5" y1="373" x2="528.75" y2="373" stroke="#000" stroke-width="1.4"/>
<text x="486.7" y="370.8" letter-spacing="1.15" text-anchor="middle" font-size="14">***</text>
<polyline points="547.5,363.75 547.5,359.5 609.5,359.5 609.5,363.75" fill="none" stroke="#000" stroke-width="1.4" stroke-linejoin="miter"/>
<line x1="535.75" y1="363.75" x2="559.25" y2="363.75" stroke="#000" stroke-width="1.4"/>
<line x1="598.75" y1="363.75" x2="622" y2="363.75" stroke="#000" stroke-width="1.4"/>
<text x="580.1" y="362.3" letter-spacing="1.15" text-anchor="middle" font-size="14">***</text>
<polyline points="578.25,383.75 578.25,379.5 640.5,379.5 640.5,383.75" fill="none" stroke="#000" stroke-width="1.4" stroke-linejoin="miter"/>
<line x1="566.75" y1="383.75" x2="590" y2="383.75" stroke="#000" stroke-width="1.4"/>
<line x1="629.5" y1="383.75" x2="653" y2="383.75" stroke="#000" stroke-width="1.4"/>
<text x="610.7" y="382.2" letter-spacing="1.15" text-anchor="middle" font-size="14">***</text>
<rect x="543.1" y="281.55" width="11.3" height="9.6" fill="#fff" stroke="#555" stroke-width="1.2"/>
<rect x="542.5" y="295.2" width="12.5" height="10.8" fill="#000"/>
<clipPath id="hc7"><rect x="543.1" y="310.8" width="11.3" height="9.6"/></clipPath>
<rect x="543.1" y="310.8" width="11.3" height="9.6" fill="#fff"/>
<path d="M542.1 299.41L555.4 309.8M542.1 303.31L555.4 313.7M542.1 307.21L555.4 317.6M542.1 311.11L555.4 321.5M542.1 315.01L555.4 325.4M542.1 318.91L555.4 329.3" stroke="#000" stroke-width="1.45" fill="none" clip-path="url(#hc7)"/>
<rect x="543.1" y="310.8" width="11.3" height="9.6" fill="none" stroke="#222" stroke-width="1.2"/>
<rect x="543.1" y="324.8" width="11.3" height="9.6" fill="#959595" stroke="#555" stroke-width="1.2"/>
<text x="561.1" y="292" letter-spacing="0.2" font-style="italic">S. aureus</text>
<text x="561.1" y="306.3" letter-spacing="0.2"><tspan font-style="italic">S. aureus</tspan><tspan dx="-1.6" letter-spacing="0"> MW2</tspan></text>
<text x="561.1" y="320.9" letter-spacing="0.2" font-style="italic">S. epidermidis</text>
<text x="561.1" y="334.7" letter-spacing="0.2" font-style="italic">S. pyogenes</text>
<text x="351.8" y="513.1" letter-spacing="0.2">Sorting :</text>
<text x="0" y="0" text-anchor="middle" transform="translate(426.75 508.8) rotate(-90)">B1</text>
<text x="0" y="0" text-anchor="middle" transform="translate(459.25 508.8) rotate(-90)">B2</text>
<text x="0" y="0" text-anchor="middle" transform="translate(490 508.8) rotate(-90)">B1</text>
<text x="0" y="0" text-anchor="middle" transform="translate(522.7 508.8) rotate(-90)">B2</text>
<text x="0" y="0" text-anchor="middle" transform="translate(551.3 508.8) rotate(-90)">B1</text>
<text x="0" y="0" text-anchor="middle" transform="translate(584 508.8) rotate(-90)">B2</text>
<text x="0" y="0" text-anchor="middle" transform="translate(615 508.8) rotate(-90)">B1</text>
<text x="0" y="0" text-anchor="middle" transform="translate(647 508.8) rotate(-90)">B2</text>
<line x1="410.5" y1="521.5" x2="464.5" y2="521.5" stroke="#000" stroke-width="1.4"/>
<line x1="475.2" y1="521.5" x2="529.5" y2="521.5" stroke="#000" stroke-width="1.4"/>
<line x1="541" y1="521.5" x2="594.8" y2="521.5" stroke="#000" stroke-width="1.4"/>
<line x1="602.5" y1="521.5" x2="658.4" y2="521.5" stroke="#000" stroke-width="1.4"/>
<text x="352.8" y="537.6" font-style="italic">In vitro</text>
<text x="404.6" y="537.6">:</text>
<text x="438.75" y="540.1" text-anchor="middle">PBS</text>
<text x="501.5" y="540.1" text-anchor="middle">1826</text>
<text x="566" y="540.1" text-anchor="middle">PBS</text>
<text x="629" y="540.1" text-anchor="middle">1826</text>
<line x1="414.25" y1="546.5" x2="528" y2="546.5" stroke="#000" stroke-width="1.4"/>
<line x1="543.5" y1="546.5" x2="658.4" y2="546.5" stroke="#000" stroke-width="1.4"/>
<text x="330.3" y="561.3" letter-spacing="0.13">IP injection :</text>
<text x="476.4" y="565" text-anchor="middle">PBS</text>
<text x="600.6" y="565" text-anchor="middle">1826</text>
</g>
</svg></body></html>
